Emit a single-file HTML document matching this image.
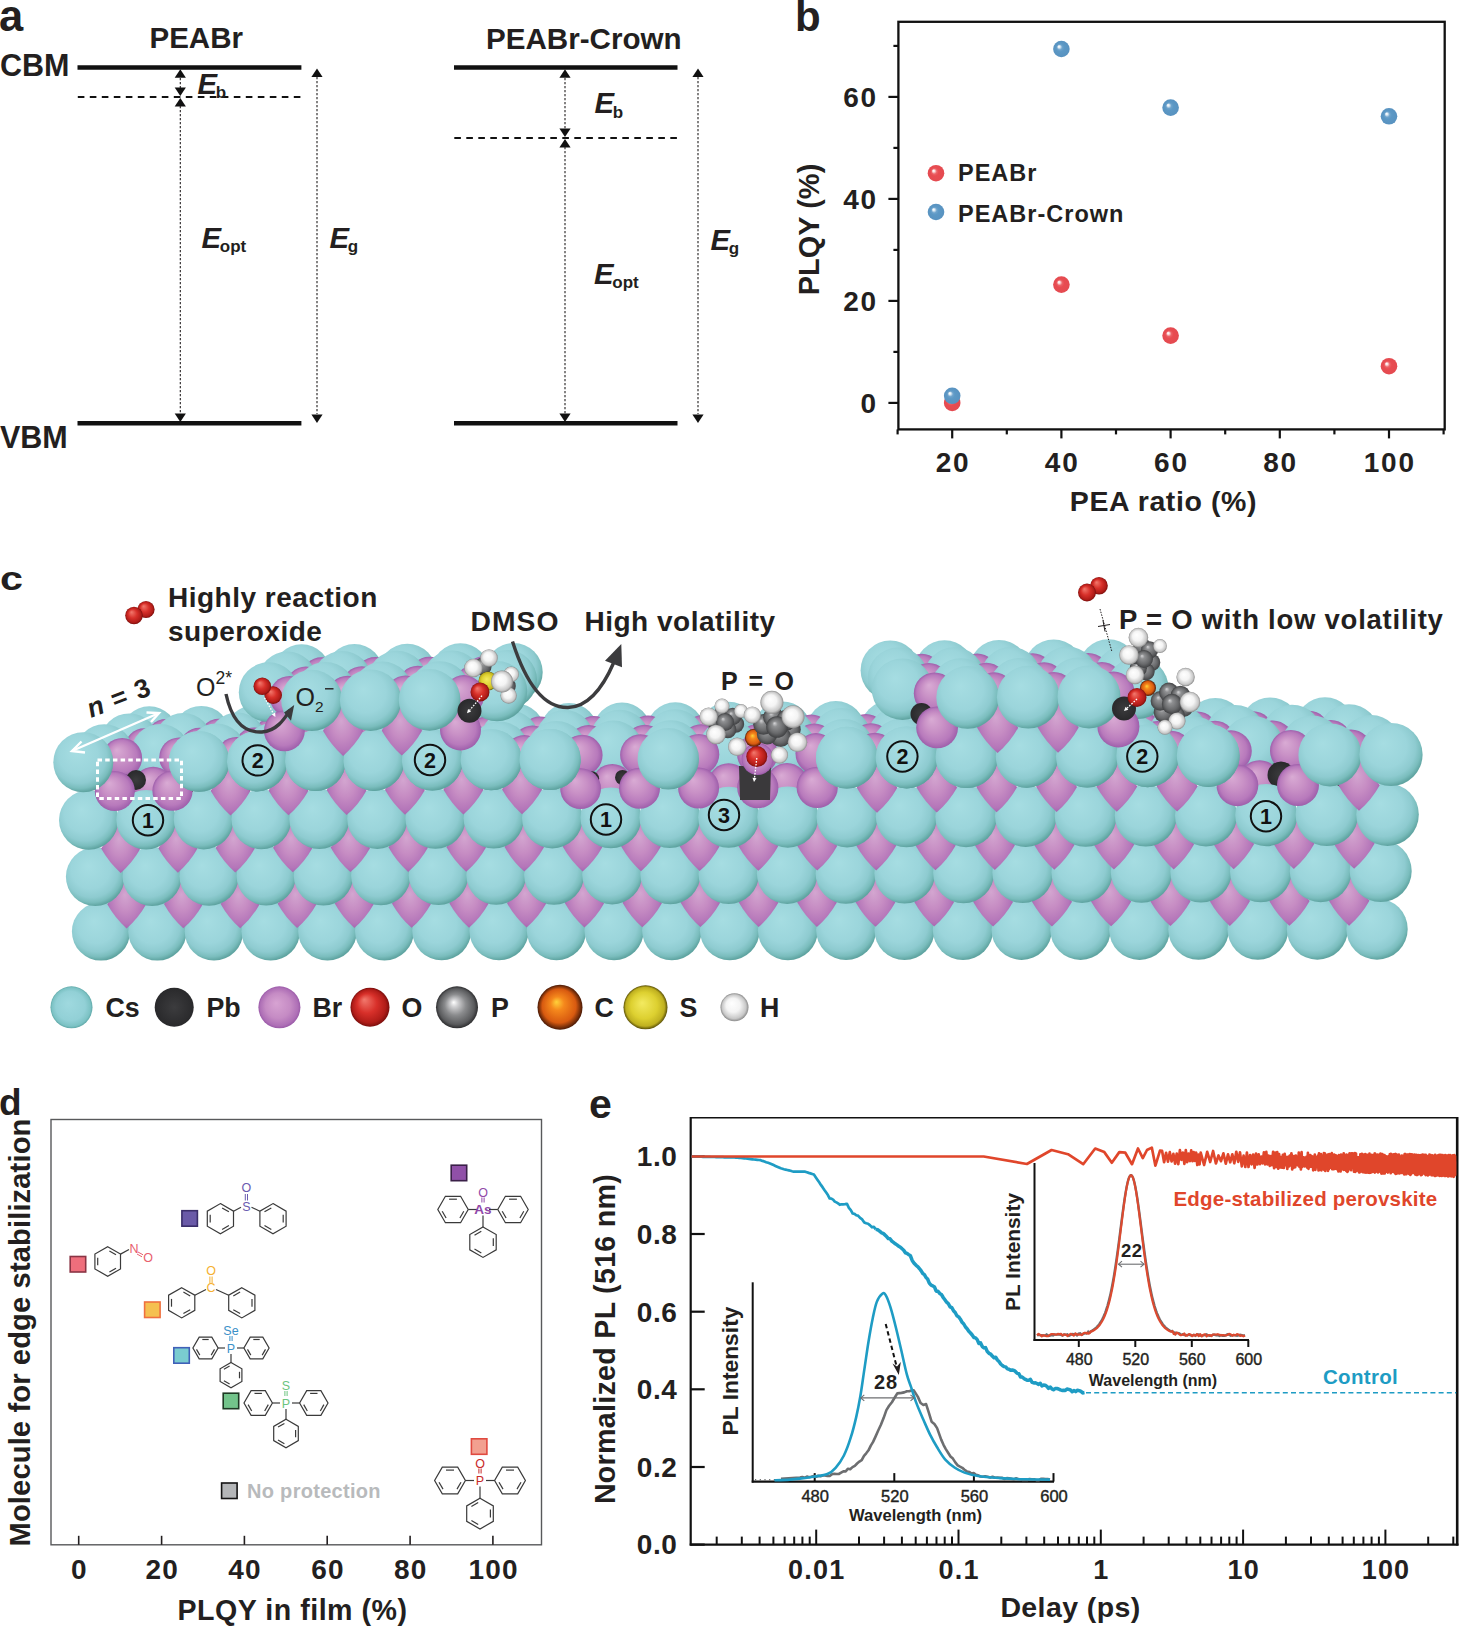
<!DOCTYPE html>
<html><head><meta charset="utf-8"><style>
html,body{margin:0;padding:0;background:#fff;}
svg{display:block;}
</style></head><body>
<svg width="1459" height="1628" viewBox="0 0 1459 1628">
<g font-family="'Liberation Sans', sans-serif" font-weight="bold" fill="#231f20">
<g>
<text x="-1" y="31" font-size="43.5">a</text>
<text x="149.5" y="47.8" font-size="29.5">PEABr</text>
<text x="486" y="48.8" font-size="29.6">PEABr-Crown</text>
<text x="0" y="76.3" font-size="30.5">CBM</text>
<text x="0" y="447.5" font-size="30.5">VBM</text>
<line x1="77.5" y1="67.5" x2="301.4" y2="67.5" stroke="#111" stroke-width="4.5"/>
<line x1="77.5" y1="423.2" x2="301.4" y2="423.2" stroke="#111" stroke-width="4.5"/>
<line x1="77.5" y1="97" x2="301.4" y2="97" stroke="#111" stroke-width="2" stroke-dasharray="6.6 5.4" stroke-dashoffset="-0.3"/>
<polygon points="180.3,69.3 174.7,77.8 185.9,77.8" fill="#111"/>
<line x1="180.3" y1="78" x2="180.3" y2="88" stroke="#231f20" stroke-width="1.1" stroke-dasharray="2.2 1.8"/>
<polygon points="180.3,96 174.7,87.5 185.9,87.5" fill="#111"/>
<polygon points="180.3,98 174.7,106.5 185.9,106.5" fill="#111"/>
<line x1="180.3" y1="106" x2="180.3" y2="414" stroke="#231f20" stroke-width="1.1" stroke-dasharray="2.2 1.8"/>
<polygon points="180.3,422 174.7,413.5 185.9,413.5" fill="#111"/>
<polygon points="317,68.5 311.4,77 322.6,77" fill="#111"/>
<line x1="317" y1="77" x2="317" y2="414" stroke="#231f20" stroke-width="1.1" stroke-dasharray="2.2 1.8"/>
<polygon points="317,423 311.4,414.5 322.6,414.5" fill="#111"/>
<line x1="454" y1="67.5" x2="677.5" y2="67.5" stroke="#111" stroke-width="4.5"/>
<line x1="454" y1="423.2" x2="677.5" y2="423.2" stroke="#111" stroke-width="4.5"/>
<line x1="454" y1="138" x2="677.5" y2="138" stroke="#111" stroke-width="2" stroke-dasharray="6.6 5.4" stroke-dashoffset="-0.3"/>
<polygon points="565,69.3 559.4,77.8 570.6,77.8" fill="#111"/>
<line x1="565" y1="78" x2="565" y2="129" stroke="#231f20" stroke-width="1.1" stroke-dasharray="2.2 1.8"/>
<polygon points="565,137 559.4,128.5 570.6,128.5" fill="#111"/>
<polygon points="565,139 559.4,147.5 570.6,147.5" fill="#111"/>
<line x1="565" y1="147" x2="565" y2="414" stroke="#231f20" stroke-width="1.1" stroke-dasharray="2.2 1.8"/>
<polygon points="565,422 559.4,413.5 570.6,413.5" fill="#111"/>
<polygon points="698,68.5 692.4,77 703.6,77" fill="#111"/>
<line x1="698" y1="77" x2="698" y2="414" stroke="#231f20" stroke-width="1.1" stroke-dasharray="2.2 1.8"/>
<polygon points="698,423 692.4,414.5 703.6,414.5" fill="#111"/>
<text x="197.5" y="93.5" font-size="29.3" font-style="italic">E</text><text x="215.8" y="97.8" font-size="17">b</text>
<text x="201.5" y="247.8" font-size="29.3" font-style="italic">E</text><text x="219.8" y="252.1" font-size="17">opt</text>
<text x="329.5" y="247.8" font-size="29.3" font-style="italic">E</text><text x="347.8" y="252.1" font-size="17">g</text>
<text x="594.5" y="113.4" font-size="29.3" font-style="italic">E</text><text x="612.8" y="117.7" font-size="17">b</text>
<text x="594" y="284" font-size="29.3" font-style="italic">E</text><text x="612.3" y="288.3" font-size="17">opt</text>
<text x="710.5" y="250" font-size="29.3" font-style="italic">E</text><text x="728.8" y="254.3" font-size="17">g</text>
</g>
<g>
<defs>
<radialGradient id="gRed" cx="0.5" cy="0.5" r="0.5" fx="0.34" fy="0.34">
<stop offset="0" stop-color="#ffffff"/><stop offset="0.12" stop-color="#fbe6e6"/><stop offset="0.32" stop-color="#ec6267"/><stop offset="0.5" stop-color="#e84c51"/><stop offset="1" stop-color="#e44a50"/></radialGradient>
<radialGradient id="gBlue" cx="0.5" cy="0.5" r="0.5" fx="0.34" fy="0.34">
<stop offset="0" stop-color="#ffffff"/><stop offset="0.12" stop-color="#e6f0f7"/><stop offset="0.32" stop-color="#6ea3cc"/><stop offset="0.5" stop-color="#5c98c5"/><stop offset="1" stop-color="#5892c0"/></radialGradient>
</defs>
<text x="795" y="30.5" font-size="42">b</text>
<rect x="898.4" y="21.8" width="546.3" height="407.6" fill="none" stroke="#111" stroke-width="2.3"/>
<line x1="888.4" y1="402.9" x2="898.4" y2="402.9" stroke="#111" stroke-width="2.2"/>
<text x="877.5" y="412.7" font-size="28" text-anchor="end" letter-spacing="1.5">0</text>
<line x1="893.4" y1="351.9" x2="898.4" y2="351.9" stroke="#111" stroke-width="2.2"/>
<line x1="888.4" y1="300.9" x2="898.4" y2="300.9" stroke="#111" stroke-width="2.2"/>
<text x="877.5" y="310.7" font-size="28" text-anchor="end" letter-spacing="1.5">20</text>
<line x1="893.4" y1="249.9" x2="898.4" y2="249.9" stroke="#111" stroke-width="2.2"/>
<line x1="888.4" y1="198.9" x2="898.4" y2="198.9" stroke="#111" stroke-width="2.2"/>
<text x="877.5" y="208.7" font-size="28" text-anchor="end" letter-spacing="1.5">40</text>
<line x1="893.4" y1="147.9" x2="898.4" y2="147.9" stroke="#111" stroke-width="2.2"/>
<line x1="888.4" y1="96.9" x2="898.4" y2="96.9" stroke="#111" stroke-width="2.2"/>
<text x="877.5" y="106.7" font-size="28" text-anchor="end" letter-spacing="1.5">60</text>
<line x1="893.4" y1="45.9" x2="898.4" y2="45.9" stroke="#111" stroke-width="2.2"/>
<line x1="897.6" y1="429.4" x2="897.6" y2="434.4" stroke="#111" stroke-width="2.2"/>
<line x1="952.2" y1="429.4" x2="952.2" y2="438.4" stroke="#111" stroke-width="2.2"/>
<text x="953" y="472" font-size="28" text-anchor="middle" letter-spacing="1.8">20</text>
<line x1="1006.8" y1="429.4" x2="1006.8" y2="434.4" stroke="#111" stroke-width="2.2"/>
<line x1="1061.4" y1="429.4" x2="1061.4" y2="438.4" stroke="#111" stroke-width="2.2"/>
<text x="1062.2" y="472" font-size="28" text-anchor="middle" letter-spacing="1.8">40</text>
<line x1="1116" y1="429.4" x2="1116" y2="434.4" stroke="#111" stroke-width="2.2"/>
<line x1="1170.6" y1="429.4" x2="1170.6" y2="438.4" stroke="#111" stroke-width="2.2"/>
<text x="1171.4" y="472" font-size="28" text-anchor="middle" letter-spacing="1.8">60</text>
<line x1="1225.2" y1="429.4" x2="1225.2" y2="434.4" stroke="#111" stroke-width="2.2"/>
<line x1="1279.8" y1="429.4" x2="1279.8" y2="438.4" stroke="#111" stroke-width="2.2"/>
<text x="1280.6" y="472" font-size="28" text-anchor="middle" letter-spacing="1.8">80</text>
<line x1="1334.4" y1="429.4" x2="1334.4" y2="434.4" stroke="#111" stroke-width="2.2"/>
<line x1="1389" y1="429.4" x2="1389" y2="438.4" stroke="#111" stroke-width="2.2"/>
<text x="1389.8" y="472" font-size="28" text-anchor="middle" letter-spacing="1.8">100</text>
<line x1="1443.6" y1="429.4" x2="1443.6" y2="434.4" stroke="#111" stroke-width="2.2"/>
<text x="1163.5" y="511" font-size="28.5" text-anchor="middle" letter-spacing="0.6">PEA ratio (%)</text>
<text transform="translate(818.5,229.5) rotate(-90)" font-size="29" text-anchor="middle">PLQY (%)</text>
<circle cx="936" cy="173.2" r="8.3" fill="url(#gRed)"/>
<text x="958" y="181" font-size="23.5" letter-spacing="1">PEABr</text>
<circle cx="936" cy="212" r="8.3" fill="url(#gBlue)"/>
<text x="958" y="221.5" font-size="23.5" letter-spacing="1">PEABr-Crown</text>
<circle cx="952.2" cy="402.9" r="8.3" fill="url(#gRed)"/>
<circle cx="1061.4" cy="284.6" r="8.3" fill="url(#gRed)"/>
<circle cx="1170.6" cy="335.6" r="8.3" fill="url(#gRed)"/>
<circle cx="1389" cy="366.2" r="8.3" fill="url(#gRed)"/>
<circle cx="952.2" cy="395.8" r="8.3" fill="url(#gBlue)"/>
<circle cx="1061.4" cy="49" r="8.3" fill="url(#gBlue)"/>
<circle cx="1170.6" cy="107.6" r="8.3" fill="url(#gBlue)"/>
<circle cx="1389" cy="116.3" r="8.3" fill="url(#gBlue)"/>
</g>
<g>
<defs>
<radialGradient id="gCs" cx="0.45" cy="0.42" r="0.6" fx="0.38" fy="0.32">
<stop offset="0" stop-color="#a6dde2"/><stop offset="0.55" stop-color="#9bd5db"/><stop offset="0.76" stop-color="#8ecbd0"/><stop offset="0.88" stop-color="#7abdbd"/><stop offset="0.97" stop-color="#5fa4a1"/></radialGradient>
<radialGradient id="gBrK" cx="0.5" cy="0.5" r="0.55" fx="0.45" fy="0.38">
<stop offset="0" stop-color="#d3a6d0"/><stop offset="0.45" stop-color="#c68cc3"/><stop offset="0.8" stop-color="#b476b9"/><stop offset="1" stop-color="#9f5dac"/></radialGradient>
<radialGradient id="gBr" cx="0.5" cy="0.5" r="0.5" fx="0.36" fy="0.3">
<stop offset="0" stop-color="#d9abd4"/><stop offset="0.45" stop-color="#c991c6"/><stop offset="0.8" stop-color="#b87abc"/><stop offset="1" stop-color="#9e5fab"/></radialGradient>
<radialGradient id="gPb" cx="0.5" cy="0.5" r="0.5" fx="0.4" fy="0.35">
<stop offset="0" stop-color="#4a4a4c"/><stop offset="1" stop-color="#2b2b2d"/></radialGradient>
<radialGradient id="gO" cx="0.5" cy="0.5" r="0.5" fx="0.35" fy="0.3">
<stop offset="0" stop-color="#f27a6e"/><stop offset="0.5" stop-color="#d8302a"/><stop offset="0.85" stop-color="#b01c18"/><stop offset="1" stop-color="#7a0e0c"/></radialGradient>
<radialGradient id="gP" cx="0.5" cy="0.5" r="0.5" fx="0.42" fy="0.38">
<stop offset="0" stop-color="#ffffff"/><stop offset="0.18" stop-color="#d0d0d2"/><stop offset="0.5" stop-color="#8a8b8d"/><stop offset="0.85" stop-color="#5a5b5d"/><stop offset="1" stop-color="#2e2e30"/></radialGradient>
<radialGradient id="gC" cx="0.5" cy="0.5" r="0.5" fx="0.42" fy="0.38">
<stop offset="0" stop-color="#ffd23a"/><stop offset="0.3" stop-color="#f5881c"/><stop offset="0.75" stop-color="#d85a10"/><stop offset="1" stop-color="#4a1a06"/></radialGradient>
<radialGradient id="gS" cx="0.5" cy="0.5" r="0.5" fx="0.42" fy="0.4">
<stop offset="0" stop-color="#f3ea60"/><stop offset="0.6" stop-color="#ddd030"/><stop offset="0.88" stop-color="#bfb020"/><stop offset="1" stop-color="#5a5008"/></radialGradient>
<radialGradient id="gH" cx="0.5" cy="0.5" r="0.5" fx="0.4" fy="0.35">
<stop offset="0" stop-color="#ffffff"/><stop offset="0.5" stop-color="#f4f4f4"/><stop offset="0.85" stop-color="#c8c8c8"/><stop offset="1" stop-color="#8a8a8a"/></radialGradient>
<radialGradient id="gG" cx="0.5" cy="0.5" r="0.5" fx="0.38" fy="0.32">
<stop offset="0" stop-color="#d6d6d8"/><stop offset="0.25" stop-color="#8f9092"/><stop offset="0.7" stop-color="#68696b"/><stop offset="1" stop-color="#404143"/></radialGradient>
<radialGradient id="gCsL" cx="0.5" cy="0.5" r="0.5" fx="0.42" fy="0.4">
<stop offset="0" stop-color="#9fd9df"/><stop offset="0.7" stop-color="#92d0d6"/><stop offset="0.92" stop-color="#7cc2c4"/><stop offset="1" stop-color="#5fa8a8"/></radialGradient>
<radialGradient id="gBrL" cx="0.5" cy="0.5" r="0.5" fx="0.42" fy="0.4">
<stop offset="0" stop-color="#d7a3d2"/><stop offset="0.6" stop-color="#c58bc4"/><stop offset="0.9" stop-color="#ae6fb6"/><stop offset="1" stop-color="#9a5aa8"/></radialGradient>
<radialGradient id="gPbL" cx="0.5" cy="0.5" r="0.5"><stop offset="0" stop-color="#3c3c3e"/><stop offset="1" stop-color="#29292b"/></radialGradient>
</defs>
<circle cx="149.3" cy="734.7" r="28.4" fill="url(#gCs)"/>
<circle cx="201.3" cy="734.4" r="28.5" fill="url(#gCs)"/>
<circle cx="253.4" cy="734" r="28.5" fill="url(#gCs)"/>
<circle cx="305.6" cy="733.7" r="28.6" fill="url(#gCs)"/>
<circle cx="358" cy="733.3" r="28.6" fill="url(#gCs)"/>
<circle cx="410.5" cy="733" r="28.7" fill="url(#gCs)"/>
<circle cx="463.2" cy="732.6" r="28.8" fill="url(#gCs)"/>
<circle cx="516" cy="732.3" r="28.8" fill="url(#gCs)"/>
<circle cx="569" cy="732" r="28.9" fill="url(#gCs)"/>
<circle cx="622" cy="731.6" r="29" fill="url(#gCs)"/>
<circle cx="675.3" cy="731.3" r="29" fill="url(#gCs)"/>
<circle cx="728.7" cy="730.9" r="29.1" fill="url(#gCs)"/>
<circle cx="782.2" cy="730.6" r="29.2" fill="url(#gCs)"/>
<circle cx="835.8" cy="730.2" r="29.2" fill="url(#gCs)"/>
<circle cx="889.6" cy="729.9" r="29.3" fill="url(#gCs)"/>
<circle cx="943.5" cy="729.5" r="29.4" fill="url(#gCs)"/>
<circle cx="997.6" cy="729.1" r="29.4" fill="url(#gCs)"/>
<circle cx="1051.8" cy="728.8" r="29.5" fill="url(#gCs)"/>
<circle cx="1106.2" cy="728.4" r="29.6" fill="url(#gCs)"/>
<circle cx="1160.7" cy="728.1" r="29.6" fill="url(#gCs)"/>
<circle cx="1215.3" cy="727.7" r="29.7" fill="url(#gCs)"/>
<circle cx="1270.1" cy="727.4" r="29.8" fill="url(#gCs)"/>
<circle cx="1325" cy="727" r="29.8" fill="url(#gCs)"/>
<circle cx="165.8" cy="738.3" r="19.2" fill="url(#gBr)"/>
<circle cx="218.8" cy="737.9" r="19.2" fill="url(#gBr)"/>
<circle cx="271.9" cy="737.6" r="19.3" fill="url(#gBr)"/>
<circle cx="325.2" cy="737.3" r="19.3" fill="url(#gBr)"/>
<circle cx="378.6" cy="736.9" r="19.4" fill="url(#gBr)"/>
<circle cx="432.2" cy="736.6" r="19.4" fill="url(#gBr)"/>
<circle cx="486" cy="736.2" r="19.5" fill="url(#gBr)"/>
<circle cx="539.8" cy="735.9" r="19.5" fill="url(#gBr)"/>
<circle cx="593.8" cy="735.5" r="19.5" fill="url(#gBr)"/>
<circle cx="648" cy="735.2" r="19.6" fill="url(#gBr)"/>
<circle cx="702.3" cy="734.8" r="19.6" fill="url(#gBr)"/>
<circle cx="756.7" cy="734.5" r="19.7" fill="url(#gBr)"/>
<circle cx="811.3" cy="734.1" r="19.7" fill="url(#gBr)"/>
<circle cx="866" cy="733.8" r="19.8" fill="url(#gBr)"/>
<circle cx="920.9" cy="733.4" r="19.8" fill="url(#gBr)"/>
<circle cx="975.9" cy="733.1" r="19.9" fill="url(#gBr)"/>
<circle cx="1031.1" cy="732.7" r="19.9" fill="url(#gBr)"/>
<circle cx="1086.4" cy="732.4" r="19.9" fill="url(#gBr)"/>
<circle cx="1141.8" cy="732" r="20" fill="url(#gBr)"/>
<circle cx="1197.4" cy="731.6" r="20" fill="url(#gBr)"/>
<circle cx="1253.1" cy="731.3" r="20.1" fill="url(#gBr)"/>
<circle cx="1309" cy="730.9" r="20.1" fill="url(#gBr)"/>
<circle cx="129.3" cy="742.2" r="28.8" fill="url(#gCs)"/>
<circle cx="183.2" cy="741.9" r="28.9" fill="url(#gCs)"/>
<circle cx="237.3" cy="741.5" r="29" fill="url(#gCs)"/>
<circle cx="291.5" cy="741.2" r="29" fill="url(#gCs)"/>
<circle cx="345.8" cy="740.8" r="29.1" fill="url(#gCs)"/>
<circle cx="400.3" cy="740.5" r="29.2" fill="url(#gCs)"/>
<circle cx="455" cy="740.1" r="29.2" fill="url(#gCs)"/>
<circle cx="509.7" cy="739.8" r="29.3" fill="url(#gCs)"/>
<circle cx="564.7" cy="739.5" r="29.4" fill="url(#gCs)"/>
<circle cx="619.7" cy="739.1" r="29.4" fill="url(#gCs)"/>
<circle cx="675" cy="738.8" r="29.5" fill="url(#gCs)"/>
<circle cx="730.3" cy="738.4" r="29.6" fill="url(#gCs)"/>
<circle cx="785.8" cy="738.1" r="29.6" fill="url(#gCs)"/>
<circle cx="841.5" cy="737.7" r="29.7" fill="url(#gCs)"/>
<circle cx="897.3" cy="737.4" r="29.8" fill="url(#gCs)"/>
<circle cx="953.3" cy="737" r="29.8" fill="url(#gCs)"/>
<circle cx="1009.4" cy="736.6" r="29.9" fill="url(#gCs)"/>
<circle cx="1065.6" cy="736.3" r="30" fill="url(#gCs)"/>
<circle cx="1122" cy="735.9" r="30" fill="url(#gCs)"/>
<circle cx="1178.5" cy="735.6" r="30.1" fill="url(#gCs)"/>
<circle cx="1235.2" cy="735.2" r="30.2" fill="url(#gCs)"/>
<circle cx="1292" cy="734.9" r="30.2" fill="url(#gCs)"/>
<circle cx="1349" cy="734.5" r="30.3" fill="url(#gCs)"/>
<circle cx="144.3" cy="747.8" r="19.5" fill="url(#gBr)"/>
<circle cx="199.3" cy="747.4" r="19.6" fill="url(#gBr)"/>
<circle cx="254.5" cy="747.1" r="19.6" fill="url(#gBr)"/>
<circle cx="309.8" cy="746.8" r="19.7" fill="url(#gBr)"/>
<circle cx="365.2" cy="746.4" r="19.7" fill="url(#gBr)"/>
<circle cx="420.9" cy="746.1" r="19.8" fill="url(#gBr)"/>
<circle cx="476.6" cy="745.7" r="19.8" fill="url(#gBr)"/>
<circle cx="532.5" cy="745.4" r="19.9" fill="url(#gBr)"/>
<circle cx="588.6" cy="745" r="19.9" fill="url(#gBr)"/>
<circle cx="644.8" cy="744.7" r="19.9" fill="url(#gBr)"/>
<circle cx="701.2" cy="744.3" r="20" fill="url(#gBr)"/>
<circle cx="757.7" cy="744" r="20" fill="url(#gBr)"/>
<circle cx="814.3" cy="743.6" r="20.1" fill="url(#gBr)"/>
<circle cx="871.1" cy="743.3" r="20.1" fill="url(#gBr)"/>
<circle cx="928.1" cy="742.9" r="20.2" fill="url(#gBr)"/>
<circle cx="985.2" cy="742.6" r="20.2" fill="url(#gBr)"/>
<circle cx="1042.5" cy="742.2" r="20.3" fill="url(#gBr)"/>
<circle cx="1099.9" cy="741.9" r="20.3" fill="url(#gBr)"/>
<circle cx="1157.4" cy="741.5" r="20.4" fill="url(#gBr)"/>
<circle cx="1215.1" cy="741.1" r="20.4" fill="url(#gBr)"/>
<circle cx="1272.9" cy="740.8" r="20.4" fill="url(#gBr)"/>
<circle cx="1330.9" cy="740.4" r="20.5" fill="url(#gBr)"/>
<circle cx="104.3" cy="753.7" r="29.4" fill="url(#gCs)"/>
<circle cx="160.3" cy="753.4" r="29.5" fill="url(#gCs)"/>
<circle cx="216.4" cy="753" r="29.6" fill="url(#gCs)"/>
<circle cx="272.7" cy="752.7" r="29.6" fill="url(#gCs)"/>
<circle cx="329.2" cy="752.3" r="29.7" fill="url(#gCs)"/>
<circle cx="385.8" cy="752" r="29.8" fill="url(#gCs)"/>
<circle cx="442.5" cy="751.6" r="29.8" fill="url(#gCs)"/>
<circle cx="499.4" cy="751.3" r="29.9" fill="url(#gCs)"/>
<circle cx="556.4" cy="751" r="30" fill="url(#gCs)"/>
<circle cx="613.6" cy="750.6" r="30" fill="url(#gCs)"/>
<circle cx="671" cy="750.3" r="30.1" fill="url(#gCs)"/>
<circle cx="728.5" cy="749.9" r="30.2" fill="url(#gCs)"/>
<circle cx="786.1" cy="749.6" r="30.2" fill="url(#gCs)"/>
<circle cx="843.9" cy="749.2" r="30.3" fill="url(#gCs)"/>
<circle cx="901.9" cy="748.9" r="30.4" fill="url(#gCs)"/>
<circle cx="960" cy="748.5" r="30.5" fill="url(#gCs)"/>
<circle cx="1018.3" cy="748.1" r="30.5" fill="url(#gCs)"/>
<circle cx="1076.7" cy="747.8" r="30.6" fill="url(#gCs)"/>
<circle cx="1135.2" cy="747.4" r="30.7" fill="url(#gCs)"/>
<circle cx="1193.9" cy="747.1" r="30.7" fill="url(#gCs)"/>
<circle cx="1252.8" cy="746.7" r="30.8" fill="url(#gCs)"/>
<circle cx="1311.8" cy="746.4" r="30.9" fill="url(#gCs)"/>
<circle cx="1371" cy="746" r="30.9" fill="url(#gCs)"/>
<circle cx="122.2" cy="757.8" r="19.9" fill="url(#gBr)"/>
<circle cx="179.2" cy="757.4" r="20" fill="url(#gBr)"/>
<circle cx="236.3" cy="757.1" r="20" fill="url(#gBr)"/>
<circle cx="293.6" cy="756.8" r="20.1" fill="url(#gBr)"/>
<circle cx="351" cy="756.4" r="20.1" fill="url(#gBr)"/>
<circle cx="408.6" cy="756.1" r="20.2" fill="url(#gBr)"/>
<circle cx="466.4" cy="755.7" r="20.2" fill="url(#gBr)"/>
<circle cx="524.3" cy="755.4" r="20.3" fill="url(#gBr)"/>
<circle cx="582.3" cy="755" r="20.3" fill="url(#gBr)"/>
<circle cx="640.5" cy="754.7" r="20.4" fill="url(#gBr)"/>
<circle cx="698.9" cy="754.3" r="20.4" fill="url(#gBr)"/>
<circle cx="757.4" cy="754" r="20.4" fill="url(#gBr)"/>
<circle cx="816" cy="753.6" r="20.5" fill="url(#gBr)"/>
<circle cx="874.8" cy="753.3" r="20.5" fill="url(#gBr)"/>
<circle cx="933.8" cy="752.9" r="20.6" fill="url(#gBr)"/>
<circle cx="992.9" cy="752.6" r="20.6" fill="url(#gBr)"/>
<circle cx="1052.2" cy="752.2" r="20.7" fill="url(#gBr)"/>
<circle cx="1111.6" cy="751.9" r="20.7" fill="url(#gBr)"/>
<circle cx="1171.2" cy="751.5" r="20.8" fill="url(#gBr)"/>
<circle cx="1231" cy="751.1" r="20.8" fill="url(#gBr)"/>
<circle cx="1290.9" cy="750.8" r="20.9" fill="url(#gBr)"/>
<circle cx="1350.9" cy="750.4" r="20.9" fill="url(#gBr)"/>
<circle cx="124.8" cy="786.7" r="12.3" fill="url(#gPb)"/>
<circle cx="181.6" cy="786.4" r="12.3" fill="url(#gPb)"/>
<circle cx="238.5" cy="786.1" r="12.3" fill="url(#gPb)"/>
<circle cx="295.6" cy="785.8" r="12.3" fill="url(#gPb)"/>
<circle cx="352.8" cy="785.5" r="12.4" fill="url(#gPb)"/>
<circle cx="410.2" cy="785.2" r="12.4" fill="url(#gPb)"/>
<circle cx="467.8" cy="785" r="12.4" fill="url(#gPb)"/>
<circle cx="525.5" cy="784.7" r="12.5" fill="url(#gPb)"/>
<circle cx="583.3" cy="784.4" r="12.5" fill="url(#gPb)"/>
<circle cx="641.3" cy="784.1" r="12.5" fill="url(#gPb)"/>
<circle cx="699.5" cy="783.8" r="12.5" fill="url(#gPb)"/>
<circle cx="757.8" cy="783.5" r="12.6" fill="url(#gPb)"/>
<circle cx="816.2" cy="783.2" r="12.6" fill="url(#gPb)"/>
<circle cx="874.8" cy="782.9" r="12.6" fill="url(#gPb)"/>
<circle cx="933.6" cy="782.6" r="12.7" fill="url(#gPb)"/>
<circle cx="992.5" cy="782.3" r="12.7" fill="url(#gPb)"/>
<circle cx="1051.6" cy="782" r="12.7" fill="url(#gPb)"/>
<circle cx="1110.8" cy="781.7" r="12.7" fill="url(#gPb)"/>
<circle cx="1170.2" cy="781.4" r="12.8" fill="url(#gPb)"/>
<circle cx="1229.7" cy="781.1" r="12.8" fill="url(#gPb)"/>
<circle cx="1289.4" cy="780.8" r="12.8" fill="url(#gPb)"/>
<circle cx="1349.3" cy="780.5" r="12.9" fill="url(#gPb)"/>
<circle cx="1259.6" cy="780.9" r="20.7" fill="url(#gBr)"/>
<circle cx="612.3" cy="784.2" r="20.2" fill="url(#gBr)"/>
<circle cx="728.6" cy="783.6" r="20.3" fill="url(#gBr)"/>
<circle cx="153.2" cy="786.6" r="19.9" fill="url(#gBr)"/>
<circle cx="787" cy="783.3" r="20.4" fill="url(#gBr)"/>
<circle cx="136" cy="780" r="10" fill="url(#gPbL)"/>
<circle cx="591.7" cy="778.7" r="7.5" fill="url(#gPbL)"/>
<circle cx="622.5" cy="777.4" r="7.5" fill="url(#gPbL)"/>
<circle cx="1281" cy="775" r="13.5" fill="url(#gPbL)"/>
<circle cx="101" cy="931.5" r="29.1" fill="url(#gCs)"/>
<circle cx="157.4" cy="931.4" r="29.2" fill="url(#gCs)"/>
<circle cx="214" cy="931.3" r="29.3" fill="url(#gCs)"/>
<circle cx="270.7" cy="931.2" r="29.3" fill="url(#gCs)"/>
<circle cx="327.5" cy="931.1" r="29.4" fill="url(#gCs)"/>
<circle cx="384.5" cy="930.9" r="29.5" fill="url(#gCs)"/>
<circle cx="441.7" cy="930.8" r="29.5" fill="url(#gCs)"/>
<circle cx="499" cy="930.7" r="29.6" fill="url(#gCs)"/>
<circle cx="556.5" cy="930.6" r="29.7" fill="url(#gCs)"/>
<circle cx="614.1" cy="930.5" r="29.7" fill="url(#gCs)"/>
<circle cx="671.9" cy="930.4" r="29.8" fill="url(#gCs)"/>
<circle cx="729.8" cy="930.3" r="29.9" fill="url(#gCs)"/>
<circle cx="787.9" cy="930.2" r="30" fill="url(#gCs)"/>
<circle cx="846.1" cy="930" r="30" fill="url(#gCs)"/>
<circle cx="904.5" cy="929.9" r="30.1" fill="url(#gCs)"/>
<circle cx="963" cy="929.8" r="30.2" fill="url(#gCs)"/>
<circle cx="1021.7" cy="929.7" r="30.2" fill="url(#gCs)"/>
<circle cx="1080.5" cy="929.6" r="30.3" fill="url(#gCs)"/>
<circle cx="1139.5" cy="929.5" r="30.4" fill="url(#gCs)"/>
<circle cx="1198.6" cy="929.3" r="30.4" fill="url(#gCs)"/>
<circle cx="1257.9" cy="929.2" r="30.5" fill="url(#gCs)"/>
<circle cx="1317.4" cy="929.1" r="30.6" fill="url(#gCs)"/>
<circle cx="1377" cy="929" r="30.7" fill="url(#gCs)"/>
<path d="M107.3 904.3 Q115 918.2 126.6 928.4 Q138.4 918.4 146 904.6 L126.4 874.1 Z" fill="url(#gBrK)"/>
<path d="M164 904.1 Q171.6 918 183.3 928.3 Q195.1 918.2 202.7 904.4 L183.1 873.9 Z" fill="url(#gBrK)"/>
<path d="M220.7 903.9 Q228.4 917.9 240.2 928.2 Q252 918.1 259.6 904.2 L240 873.6 Z" fill="url(#gBrK)"/>
<path d="M277.7 903.8 Q285.4 917.7 297.1 928 Q309 917.9 316.6 904.1 L296.9 873.4 Z" fill="url(#gBrK)"/>
<path d="M334.8 903.6 Q342.5 917.6 354.3 927.9 Q366.1 917.8 373.8 903.9 L354.1 873.1 Z" fill="url(#gBrK)"/>
<path d="M392 903.4 Q399.8 917.4 411.6 927.8 Q423.5 917.6 431.1 903.7 L411.4 872.9 Z" fill="url(#gBrK)"/>
<path d="M449.4 903.2 Q457.2 917.3 469 927.7 Q480.9 917.5 488.6 903.5 L468.8 872.6 Z" fill="url(#gBrK)"/>
<path d="M507 903 Q514.8 917.1 526.6 927.5 Q538.6 917.3 546.3 903.3 L526.4 872.4 Z" fill="url(#gBrK)"/>
<path d="M564.7 902.8 Q572.5 916.9 584.4 927.4 Q596.4 917.2 604.1 903.2 L584.2 872.1 Z" fill="url(#gBrK)"/>
<path d="M622.6 902.7 Q630.4 916.8 642.3 927.3 Q654.3 917 662 903 L642.1 871.9 Z" fill="url(#gBrK)"/>
<path d="M680.6 902.5 Q688.4 916.6 700.4 927.1 Q712.4 916.8 720.1 902.8 L700.2 871.6 Z" fill="url(#gBrK)"/>
<path d="M738.8 902.3 Q746.6 916.5 758.6 927 Q770.6 916.7 778.4 902.6 L758.4 871.3 Z" fill="url(#gBrK)"/>
<path d="M797.1 902.1 Q805 916.3 816.9 926.9 Q829 916.5 836.8 902.4 L816.7 871.1 Z" fill="url(#gBrK)"/>
<path d="M855.5 901.9 Q863.5 916.2 875.5 926.8 Q887.6 916.4 895.4 902.2 L875.3 870.8 Z" fill="url(#gBrK)"/>
<path d="M914.2 901.7 Q922.1 916 934.1 926.6 Q946.3 916.2 954.1 902 L933.9 870.6 Z" fill="url(#gBrK)"/>
<path d="M973 901.5 Q980.9 915.9 993 926.5 Q1005.1 916.1 1013 901.9 L992.7 870.3 Z" fill="url(#gBrK)"/>
<path d="M1031.9 901.4 Q1039.8 915.7 1051.9 926.4 Q1064.1 915.9 1072 901.7 L1051.7 870 Z" fill="url(#gBrK)"/>
<path d="M1091 901.2 Q1098.9 915.6 1111.1 926.2 Q1123.3 915.8 1131.2 901.5 L1110.9 869.8 Z" fill="url(#gBrK)"/>
<path d="M1150.2 901 Q1158.2 915.4 1170.4 926.1 Q1182.6 915.6 1190.5 901.3 L1170.1 869.5 Z" fill="url(#gBrK)"/>
<path d="M1209.6 900.8 Q1217.6 915.3 1229.8 926 Q1242.1 915.5 1250 901.1 L1229.6 869.3 Z" fill="url(#gBrK)"/>
<path d="M1269.1 900.6 Q1277.2 915.1 1289.4 925.8 Q1301.7 915.3 1309.6 900.9 L1289.2 869 Z" fill="url(#gBrK)"/>
<path d="M1328.8 900.4 Q1336.9 914.9 1349.1 925.7 Q1361.5 915.1 1369.4 900.7 L1348.9 868.7 Z" fill="url(#gBrK)"/>
<circle cx="95.3" cy="876.7" r="29.4" fill="url(#gCs)"/>
<circle cx="152.1" cy="876.4" r="29.5" fill="url(#gCs)"/>
<circle cx="209.1" cy="876.2" r="29.6" fill="url(#gCs)"/>
<circle cx="266.2" cy="875.9" r="29.6" fill="url(#gCs)"/>
<circle cx="323.5" cy="875.7" r="29.7" fill="url(#gCs)"/>
<circle cx="380.9" cy="875.4" r="29.8" fill="url(#gCs)"/>
<circle cx="438.5" cy="875.2" r="29.8" fill="url(#gCs)"/>
<circle cx="496.2" cy="874.9" r="29.9" fill="url(#gCs)"/>
<circle cx="554.1" cy="874.7" r="30" fill="url(#gCs)"/>
<circle cx="612.2" cy="874.4" r="30" fill="url(#gCs)"/>
<circle cx="670.4" cy="874.1" r="30.1" fill="url(#gCs)"/>
<circle cx="728.7" cy="873.9" r="30.2" fill="url(#gCs)"/>
<circle cx="787.2" cy="873.6" r="30.3" fill="url(#gCs)"/>
<circle cx="845.9" cy="873.4" r="30.3" fill="url(#gCs)"/>
<circle cx="904.7" cy="873.1" r="30.4" fill="url(#gCs)"/>
<circle cx="963.6" cy="872.8" r="30.5" fill="url(#gCs)"/>
<circle cx="1022.8" cy="872.6" r="30.5" fill="url(#gCs)"/>
<circle cx="1082" cy="872.3" r="30.6" fill="url(#gCs)"/>
<circle cx="1141.5" cy="872.1" r="30.7" fill="url(#gCs)"/>
<circle cx="1201" cy="871.8" r="30.7" fill="url(#gCs)"/>
<circle cx="1260.8" cy="871.5" r="30.8" fill="url(#gCs)"/>
<circle cx="1320.7" cy="871.3" r="30.9" fill="url(#gCs)"/>
<circle cx="1380.7" cy="871" r="31" fill="url(#gCs)"/>
<path d="M101.2 848.5 Q109 862.5 120.7 872.9 Q132.6 862.7 140.3 848.8 L120.5 818 Z" fill="url(#gBrK)"/>
<path d="M158.4 848.3 Q166.1 862.3 177.9 872.7 Q189.8 862.5 197.5 848.6 L177.7 817.7 Z" fill="url(#gBrK)"/>
<path d="M215.7 848 Q223.4 862.1 235.3 872.5 Q247.2 862.3 254.9 848.3 L235.1 817.4 Z" fill="url(#gBrK)"/>
<path d="M273.1 847.8 Q280.9 861.9 292.8 872.3 Q304.7 862.1 312.4 848.1 L292.6 817.1 Z" fill="url(#gBrK)"/>
<path d="M330.7 847.5 Q338.5 861.7 350.4 872.1 Q362.4 861.9 370.1 847.9 L350.2 816.8 Z" fill="url(#gBrK)"/>
<path d="M388.5 847.3 Q396.3 861.4 408.2 871.9 Q420.2 861.6 428 847.6 L408 816.5 Z" fill="url(#gBrK)"/>
<path d="M446.4 847 Q454.2 861.2 466.2 871.7 Q478.2 861.4 486 847.4 L466 816.1 Z" fill="url(#gBrK)"/>
<path d="M504.5 846.8 Q512.3 861 524.3 871.5 Q536.4 861.2 544.1 847.1 L524.1 815.8 Z" fill="url(#gBrK)"/>
<path d="M562.7 846.6 Q570.6 860.8 582.6 871.4 Q594.7 861 602.4 846.9 L582.4 815.5 Z" fill="url(#gBrK)"/>
<path d="M621.1 846.3 Q629 860.6 641 871.2 Q653.1 860.8 660.9 846.6 L640.8 815.2 Z" fill="url(#gBrK)"/>
<path d="M679.6 846.1 Q687.5 860.4 699.6 871 Q711.7 860.6 719.5 846.4 L699.4 814.9 Z" fill="url(#gBrK)"/>
<path d="M738.3 845.8 Q746.2 860.1 758.3 870.8 Q770.5 860.3 778.3 846.1 L758.1 814.5 Z" fill="url(#gBrK)"/>
<path d="M797.1 845.5 Q805.1 859.9 817.2 870.6 Q829.4 860.1 837.2 845.9 L817 814.2 Z" fill="url(#gBrK)"/>
<path d="M856.1 845.3 Q864.1 859.7 876.2 870.4 Q888.5 859.9 896.3 845.6 L876 813.9 Z" fill="url(#gBrK)"/>
<path d="M915.3 845 Q923.3 859.5 935.4 870.2 Q947.7 859.7 955.6 845.4 L935.2 813.6 Z" fill="url(#gBrK)"/>
<path d="M974.6 844.8 Q982.6 859.3 994.8 870 Q1007.1 859.5 1015 845.1 L994.6 813.2 Z" fill="url(#gBrK)"/>
<path d="M1034 844.5 Q1042.1 859 1054.3 869.8 Q1066.6 859.2 1074.5 844.8 L1054.1 812.9 Z" fill="url(#gBrK)"/>
<path d="M1093.6 844.3 Q1101.7 858.8 1113.9 869.6 Q1126.3 859 1134.2 844.6 L1113.7 812.6 Z" fill="url(#gBrK)"/>
<path d="M1153.4 844 Q1161.5 858.6 1173.7 869.4 Q1186.1 858.8 1194.1 844.3 L1173.5 812.3 Z" fill="url(#gBrK)"/>
<path d="M1213.3 843.8 Q1221.4 858.4 1233.7 869.2 Q1246.1 858.6 1254.1 844.1 L1233.5 811.9 Z" fill="url(#gBrK)"/>
<path d="M1273.4 843.5 Q1281.5 858.1 1293.8 869 Q1306.3 858.4 1314.3 843.8 L1293.6 811.6 Z" fill="url(#gBrK)"/>
<path d="M1333.6 843.2 Q1341.8 857.9 1354.1 868.8 Q1366.6 858.1 1374.6 843.6 L1353.9 811.3 Z" fill="url(#gBrK)"/>
<circle cx="88.7" cy="820" r="29.7" fill="url(#gCs)"/>
<circle cx="146.1" cy="819.8" r="29.8" fill="url(#gCs)"/>
<circle cx="203.7" cy="819.5" r="29.9" fill="url(#gCs)"/>
<circle cx="261.4" cy="819.3" r="29.9" fill="url(#gCs)"/>
<circle cx="319.3" cy="819" r="30" fill="url(#gCs)"/>
<circle cx="377.3" cy="818.8" r="30.1" fill="url(#gCs)"/>
<circle cx="435.5" cy="818.6" r="30.1" fill="url(#gCs)"/>
<circle cx="493.8" cy="818.3" r="30.2" fill="url(#gCs)"/>
<circle cx="552.3" cy="818.1" r="30.3" fill="url(#gCs)"/>
<circle cx="610.9" cy="817.8" r="30.4" fill="url(#gCs)"/>
<circle cx="669.8" cy="817.6" r="30.4" fill="url(#gCs)"/>
<circle cx="728.7" cy="817.3" r="30.5" fill="url(#gCs)"/>
<circle cx="787.8" cy="817.1" r="30.6" fill="url(#gCs)"/>
<circle cx="847.1" cy="816.8" r="30.6" fill="url(#gCs)"/>
<circle cx="906.5" cy="816.6" r="30.7" fill="url(#gCs)"/>
<circle cx="966.1" cy="816.4" r="30.8" fill="url(#gCs)"/>
<circle cx="1025.8" cy="816.1" r="30.8" fill="url(#gCs)"/>
<circle cx="1085.7" cy="815.9" r="30.9" fill="url(#gCs)"/>
<circle cx="1145.8" cy="815.6" r="31" fill="url(#gCs)"/>
<circle cx="1206" cy="815.4" r="31" fill="url(#gCs)"/>
<circle cx="1266.3" cy="815.1" r="31.1" fill="url(#gCs)"/>
<circle cx="1326.8" cy="814.9" r="31.2" fill="url(#gCs)"/>
<circle cx="1387.5" cy="814.6" r="31.3" fill="url(#gCs)"/>
<circle cx="114.8" cy="791" r="20" fill="url(#gBr)"/>
<circle cx="172.5" cy="790.7" r="20.1" fill="url(#gBr)"/>
<path d="M210.7 790.7 Q218.6 804.9 230.5 815.4 Q242.6 805.1 250.3 791 L230.3 759.7 Z" fill="url(#gBrK)"/>
<path d="M268.6 790.4 Q276.5 804.6 288.5 815.2 Q300.6 804.8 308.4 790.7 L288.3 759.4 Z" fill="url(#gBrK)"/>
<path d="M326.7 790.1 Q334.6 804.4 346.6 814.9 Q358.8 804.6 366.5 790.4 L346.4 759 Z" fill="url(#gBrK)"/>
<path d="M385 789.8 Q392.9 804.1 405 814.7 Q417.1 804.3 424.9 790.1 L404.7 758.7 Z" fill="url(#gBrK)"/>
<path d="M443.4 789.5 Q451.4 803.8 463.4 814.5 Q475.6 804 483.4 789.8 L463.2 758.3 Z" fill="url(#gBrK)"/>
<path d="M502 789.2 Q509.9 803.6 522 814.2 Q534.2 803.8 542.1 789.5 L521.8 757.9 Z" fill="url(#gBrK)"/>
<circle cx="580.6" cy="788.6" r="20.4" fill="url(#gBr)"/>
<circle cx="639.5" cy="788.3" r="20.5" fill="url(#gBr)"/>
<circle cx="698.6" cy="788" r="20.5" fill="url(#gBr)"/>
<circle cx="757.8" cy="787.7" r="20.6" fill="url(#gBr)"/>
<circle cx="817.2" cy="787.4" r="20.6" fill="url(#gBr)"/>
<path d="M856.7 787.4 Q864.7 802 877 812.8 Q889.3 802.2 897.3 787.8 L876.8 755.7 Z" fill="url(#gBrK)"/>
<path d="M916.3 787.1 Q924.4 801.7 936.7 812.5 Q949.1 801.9 957.1 787.5 L936.5 755.3 Z" fill="url(#gBrK)"/>
<path d="M976.2 786.8 Q984.3 801.5 996.6 812.3 Q1009 801.7 1017 787.2 L996.4 755 Z" fill="url(#gBrK)"/>
<path d="M1036.1 786.5 Q1044.2 801.2 1056.6 812 Q1069 801.4 1077 786.9 L1056.4 754.6 Z" fill="url(#gBrK)"/>
<path d="M1096.3 786.2 Q1104.4 800.9 1116.8 811.8 Q1129.2 801.1 1137.2 786.6 L1116.5 754.2 Z" fill="url(#gBrK)"/>
<path d="M1156.5 785.9 Q1164.7 800.7 1177.1 811.6 Q1189.6 800.9 1197.6 786.3 L1176.9 753.9 Z" fill="url(#gBrK)"/>
<circle cx="1237.4" cy="785.3" r="20.9" fill="url(#gBr)"/>
<circle cx="1298" cy="785" r="21" fill="url(#gBr)"/>
<path d="M1338.3 785 Q1346.5 799.8 1359 810.8 Q1371.6 800.1 1379.7 785.3 L1358.8 752.7 Z" fill="url(#gBrK)"/>
<circle cx="83.3" cy="762.2" r="30" fill="url(#gCs)"/>
<circle cx="199.1" cy="761.5" r="30.2" fill="url(#gCs)"/>
<circle cx="257.2" cy="761.2" r="30.2" fill="url(#gCs)"/>
<circle cx="315.4" cy="760.8" r="30.3" fill="url(#gCs)"/>
<circle cx="373.9" cy="760.5" r="30.4" fill="url(#gCs)"/>
<circle cx="432.4" cy="760.1" r="30.5" fill="url(#gCs)"/>
<circle cx="491.2" cy="759.8" r="30.5" fill="url(#gCs)"/>
<circle cx="550.1" cy="759.5" r="30.6" fill="url(#gCs)"/>
<circle cx="668.3" cy="758.8" r="30.7" fill="url(#gCs)"/>
<circle cx="846.9" cy="757.7" r="30.9" fill="url(#gCs)"/>
<circle cx="906.7" cy="757.4" r="31" fill="url(#gCs)"/>
<circle cx="966.7" cy="757" r="31.1" fill="url(#gCs)"/>
<circle cx="1026.9" cy="756.6" r="31.1" fill="url(#gCs)"/>
<circle cx="1087.2" cy="756.3" r="31.2" fill="url(#gCs)"/>
<circle cx="1147.6" cy="755.9" r="31.3" fill="url(#gCs)"/>
<circle cx="1208.2" cy="755.6" r="31.4" fill="url(#gCs)"/>
<circle cx="1329.9" cy="754.9" r="31.5" fill="url(#gCs)"/>
<circle cx="1391" cy="754.5" r="31.6" fill="url(#gCs)"/>
<circle cx="301.6" cy="673.2" r="28.9" fill="url(#gCs)"/>
<circle cx="354.4" cy="672.9" r="28.9" fill="url(#gCs)"/>
<circle cx="407.3" cy="672.7" r="29" fill="url(#gCs)"/>
<circle cx="460.4" cy="672.4" r="29.1" fill="url(#gCs)"/>
<circle cx="513.6" cy="672.1" r="29.1" fill="url(#gCs)"/>
<circle cx="321.4" cy="676.8" r="19.5" fill="url(#gBr)"/>
<circle cx="375.2" cy="676.6" r="19.6" fill="url(#gBr)"/>
<circle cx="429.2" cy="676.3" r="19.6" fill="url(#gBr)"/>
<circle cx="483.3" cy="676" r="19.6" fill="url(#gBr)"/>
<circle cx="287.4" cy="680.7" r="29.3" fill="url(#gCs)"/>
<circle cx="342.2" cy="680.4" r="29.4" fill="url(#gCs)"/>
<circle cx="397.1" cy="680.2" r="29.5" fill="url(#gCs)"/>
<circle cx="452.1" cy="679.9" r="29.5" fill="url(#gCs)"/>
<circle cx="507.3" cy="679.6" r="29.6" fill="url(#gCs)"/>
<circle cx="305.9" cy="686.3" r="19.9" fill="url(#gBr)"/>
<circle cx="361.8" cy="686.1" r="19.9" fill="url(#gBr)"/>
<circle cx="417.8" cy="685.8" r="20" fill="url(#gBr)"/>
<circle cx="474" cy="685.5" r="20" fill="url(#gBr)"/>
<circle cx="268.7" cy="692.2" r="29.9" fill="url(#gCs)"/>
<circle cx="325.5" cy="691.9" r="30" fill="url(#gCs)"/>
<circle cx="382.5" cy="691.7" r="30.1" fill="url(#gCs)"/>
<circle cx="439.7" cy="691.4" r="30.1" fill="url(#gCs)"/>
<circle cx="497" cy="691.1" r="30.2" fill="url(#gCs)"/>
<circle cx="289.7" cy="696.3" r="20.3" fill="url(#gBr)"/>
<circle cx="347.6" cy="696.1" r="20.3" fill="url(#gBr)"/>
<circle cx="405.6" cy="695.8" r="20.4" fill="url(#gBr)"/>
<circle cx="463.8" cy="695.5" r="20.4" fill="url(#gBr)"/>
<circle cx="291.7" cy="726.5" r="12.5" fill="url(#gPb)"/>
<circle cx="349.3" cy="726.2" r="12.5" fill="url(#gPb)"/>
<circle cx="407.1" cy="725.9" r="12.5" fill="url(#gPb)"/>
<circle cx="465.1" cy="725.6" r="12.6" fill="url(#gPb)"/>
<circle cx="199.1" cy="761.5" r="30.2" fill="url(#gCs)"/>
<circle cx="257.2" cy="761.2" r="30.2" fill="url(#gCs)"/>
<circle cx="315.4" cy="760.8" r="30.3" fill="url(#gCs)"/>
<circle cx="373.9" cy="760.5" r="30.4" fill="url(#gCs)"/>
<circle cx="432.4" cy="760.1" r="30.5" fill="url(#gCs)"/>
<circle cx="491.2" cy="759.8" r="30.5" fill="url(#gCs)"/>
<circle cx="550.1" cy="759.5" r="30.6" fill="url(#gCs)"/>
<circle cx="284.4" cy="730.8" r="20.4" fill="url(#gBr)"/>
<path d="M323 730.8 Q331 745.2 343.1 755.9 Q355.3 745.4 363.2 731.1 L342.9 699.4 Z" fill="url(#gBrK)"/>
<path d="M381.7 730.5 Q389.7 744.9 401.8 755.6 Q414.1 745.1 422 730.8 L401.6 699 Z" fill="url(#gBrK)"/>
<circle cx="460.5" cy="729.9" r="20.5" fill="url(#gBr)"/>
<circle cx="311.8" cy="700.4" r="30.6" fill="url(#gCs)"/>
<circle cx="370.6" cy="700.2" r="30.7" fill="url(#gCs)"/>
<circle cx="429.6" cy="699.9" r="30.8" fill="url(#gCs)"/>
<circle cx="890.2" cy="670.2" r="29.6" fill="url(#gCs)"/>
<circle cx="944.5" cy="669.9" r="29.7" fill="url(#gCs)"/>
<circle cx="999" cy="669.7" r="29.7" fill="url(#gCs)"/>
<circle cx="1053.7" cy="669.4" r="29.8" fill="url(#gCs)"/>
<circle cx="1108.4" cy="669.1" r="29.9" fill="url(#gCs)"/>
<circle cx="921.7" cy="673.8" r="20" fill="url(#gBr)"/>
<circle cx="977.1" cy="673.6" r="20" fill="url(#gBr)"/>
<circle cx="1032.7" cy="673.3" r="20.1" fill="url(#gBr)"/>
<circle cx="1088.4" cy="673" r="20.1" fill="url(#gBr)"/>
<circle cx="897.9" cy="677.7" r="30.1" fill="url(#gCs)"/>
<circle cx="954.2" cy="677.4" r="30.1" fill="url(#gCs)"/>
<circle cx="1010.8" cy="677.2" r="30.2" fill="url(#gCs)"/>
<circle cx="1067.4" cy="676.9" r="30.3" fill="url(#gCs)"/>
<circle cx="1124.3" cy="676.6" r="30.3" fill="url(#gCs)"/>
<circle cx="928.9" cy="683.3" r="20.4" fill="url(#gBr)"/>
<circle cx="986.4" cy="683.1" r="20.4" fill="url(#gBr)"/>
<circle cx="1044.1" cy="682.8" r="20.5" fill="url(#gBr)"/>
<circle cx="1101.9" cy="682.5" r="20.5" fill="url(#gBr)"/>
<circle cx="902.5" cy="689.2" r="30.7" fill="url(#gCs)"/>
<circle cx="961" cy="688.9" r="30.7" fill="url(#gCs)"/>
<circle cx="1019.7" cy="688.7" r="30.8" fill="url(#gCs)"/>
<circle cx="1078.5" cy="688.4" r="30.9" fill="url(#gCs)"/>
<circle cx="1137.5" cy="688.1" r="31" fill="url(#gCs)"/>
<circle cx="934.6" cy="693.3" r="20.8" fill="url(#gBr)"/>
<circle cx="994.1" cy="693.1" r="20.8" fill="url(#gBr)"/>
<circle cx="1053.8" cy="692.8" r="20.9" fill="url(#gBr)"/>
<circle cx="1113.7" cy="692.5" r="20.9" fill="url(#gBr)"/>
<circle cx="934.2" cy="723.1" r="12.8" fill="url(#gPb)"/>
<circle cx="993.5" cy="722.8" r="12.8" fill="url(#gPb)"/>
<circle cx="1053" cy="722.5" r="12.8" fill="url(#gPb)"/>
<circle cx="1112.7" cy="722.2" r="12.9" fill="url(#gPb)"/>
<circle cx="921.5" cy="714" r="11" fill="url(#gPbL)"/>
<circle cx="928" cy="722" r="9" fill="url(#gPbL)"/>
<circle cx="846.9" cy="757.7" r="30.9" fill="url(#gCs)"/>
<circle cx="906.7" cy="757.4" r="31" fill="url(#gCs)"/>
<circle cx="966.7" cy="757" r="31.1" fill="url(#gCs)"/>
<circle cx="1026.9" cy="756.6" r="31.1" fill="url(#gCs)"/>
<circle cx="1087.2" cy="756.3" r="31.2" fill="url(#gCs)"/>
<circle cx="1147.6" cy="755.9" r="31.3" fill="url(#gCs)"/>
<circle cx="1208.2" cy="755.6" r="31.4" fill="url(#gCs)"/>
<circle cx="937.1" cy="727.4" r="20.9" fill="url(#gBr)"/>
<path d="M977 727.4 Q985.1 742.1 997.6 753.1 Q1010.1 742.4 1018.2 727.7 L997.4 695.2 Z" fill="url(#gBrK)"/>
<path d="M1037.4 727.1 Q1045.6 741.9 1058 752.8 Q1070.6 742.1 1078.7 727.4 L1057.8 694.8 Z" fill="url(#gBrK)"/>
<circle cx="1118.4" cy="726.4" r="21" fill="url(#gBr)"/>
<circle cx="967.7" cy="697.4" r="31.4" fill="url(#gCs)"/>
<circle cx="1028.3" cy="697.2" r="31.4" fill="url(#gCs)"/>
<circle cx="1089" cy="696.9" r="31.5" fill="url(#gCs)"/>
<text x="0" y="590.5" font-size="33" transform="translate(0,590.5) scale(1.25,1) translate(0,-590.5)">c</text>
<text x="168" y="607.2" font-size="28" letter-spacing="0.5">Highly reaction</text>
<text x="168" y="640.9" font-size="28" letter-spacing="0.5">superoxide</text>
<text x="470.5" y="631.2" font-size="28.3" letter-spacing="1">DMSO</text>
<text x="584.5" y="631.2" font-size="28" letter-spacing="0.5">High volatility</text>
<text x="721" y="690" font-size="25" letter-spacing="2.2">P = O</text>
<text x="1119" y="628.8" font-size="27.5" letter-spacing="0.75">P = O with low volatility</text>
<text transform="translate(91,718) rotate(-21)" font-size="26.5" letter-spacing="1.1"><tspan font-style="italic">n</tspan> = 3</text>
<text x="196" y="695.7" font-size="25" font-weight="normal">O</text>
<text x="215.5" y="684" font-size="17.5" font-weight="normal">2*</text>
<text x="295.5" y="705.5" font-size="25" font-weight="normal">O</text>
<text x="315" y="711.8" font-size="15.5" font-weight="normal">2</text>
<line x1="325" y1="688.8" x2="333.5" y2="688.8" stroke="#231f20" stroke-width="1.4"/>
<circle cx="148" cy="820.2" r="15.2" fill="none" stroke="#111" stroke-width="2"/><text x="148" y="827.8" font-size="21.5" text-anchor="middle" fill="#111">1</text>
<circle cx="606" cy="819.5" r="15.2" fill="none" stroke="#111" stroke-width="2"/><text x="606" y="827.1" font-size="21.5" text-anchor="middle" fill="#111">1</text>
<circle cx="1266" cy="816.3" r="15.2" fill="none" stroke="#111" stroke-width="2"/><text x="1266" y="823.9" font-size="21.5" text-anchor="middle" fill="#111">1</text>
<circle cx="257.7" cy="760.4" r="15.2" fill="none" stroke="#111" stroke-width="2"/><text x="257.7" y="768" font-size="21.5" text-anchor="middle" fill="#111">2</text>
<circle cx="430" cy="760" r="15.2" fill="none" stroke="#111" stroke-width="2"/><text x="430" y="767.6" font-size="21.5" text-anchor="middle" fill="#111">2</text>
<circle cx="902.4" cy="756.5" r="15.2" fill="none" stroke="#111" stroke-width="2"/><text x="902.4" y="764.1" font-size="21.5" text-anchor="middle" fill="#111">2</text>
<circle cx="1142.3" cy="756.5" r="15.2" fill="none" stroke="#111" stroke-width="2"/><text x="1142.3" y="764.1" font-size="21.5" text-anchor="middle" fill="#111">2</text>
<circle cx="724" cy="815" r="15.2" fill="none" stroke="#111" stroke-width="2"/><text x="724" y="822.6" font-size="21.5" text-anchor="middle" fill="#111">3</text>
<line x1="73" y1="750.5" x2="158" y2="713.5" stroke="#ffffff" stroke-width="2.4"/>
<path d="M81.5 741.5 L72 751 L85 752.5" fill="none" stroke="#fff" stroke-width="2.4" stroke-linejoin="miter"/>
<path d="M146.5 712.5 L159 713 L151 722" fill="none" stroke="#fff" stroke-width="2.4" stroke-linejoin="miter"/>
<rect x="97.5" y="760" width="84" height="38.5" fill="none" stroke="#fff" stroke-width="3" stroke-dasharray="4.5 3.2"/>
<circle cx="146" cy="609.5" r="8.6" fill="url(#gO)"/><circle cx="134" cy="615.5" r="8.8" fill="url(#gO)"/>
<circle cx="273.2" cy="695.1" r="8.8" fill="url(#gO)"/><circle cx="262.3" cy="686.3" r="8.8" fill="url(#gO)"/>
<line x1="264.5" y1="697.8" x2="273.4" y2="713.5" stroke="#ffffff" stroke-width="1.3" stroke-dasharray="1.6 1.4"/><polygon points="275.4,717 271.7,714.5 275.2,712.5" fill="#ffffff"/>
<path d="M226 694 C232 722 245 733 262 732 C276 731 284 720 290 710" fill="none" stroke="#3a3a3c" stroke-width="3.4"/>
<polygon points="294.2,705 284,712.5 291,720.8" fill="#3a3a3c"/>
<path d="M512.5 641.5 C528 690 548 708 568 707.5 C590 707 605 683 614 662" fill="none" stroke="#3c3c3e" stroke-width="3.4"/>
<polygon points="621.3,644 605,660.8 622,667.3" fill="#3c3c3e"/>
<circle cx="469.5" cy="710.7" r="12" fill="url(#gPbL)"/>
<circle cx="482.6" cy="666.5" r="9" fill="url(#gG)"/><circle cx="507.3" cy="686" r="8.5" fill="url(#gG)"/>
<circle cx="473.4" cy="668" r="9.3" fill="url(#gH)"/><circle cx="489" cy="658" r="8.8" fill="url(#gH)"/><circle cx="511.2" cy="674.3" r="7.8" fill="url(#gH)"/><circle cx="508.6" cy="695.5" r="8.2" fill="url(#gH)"/>
<circle cx="488" cy="681" r="9.5" fill="url(#gS)"/>
<circle cx="502" cy="681.5" r="11" fill="url(#gH)"/>
<circle cx="480" cy="692" r="9.5" fill="url(#gO)"/>
<line x1="482" y1="695.7" x2="469.6" y2="710.3" stroke="#ffffff" stroke-width="1.3" stroke-dasharray="1.6 1.4"/><polygon points="467,713.3 468.1,709 471.1,711.6" fill="#ffffff"/>
<path d="M739 766 L771 766 L770 800 L740 800 Z" fill="#3a393b"/>
<circle cx="757.6" cy="759" r="16" fill="url(#gBrL)"/>
<circle cx="753.8" cy="737.8" r="9" fill="url(#gC)"/>
<circle cx="735.6" cy="724.1" r="8.6" fill="url(#gG)"/>
<circle cx="727.8" cy="729.7" r="8.6" fill="url(#gG)"/>
<circle cx="717.2" cy="727.7" r="8.6" fill="url(#gG)"/>
<circle cx="714.4" cy="719.9" r="8.6" fill="url(#gG)"/>
<circle cx="722.2" cy="714.3" r="8.6" fill="url(#gG)"/>
<circle cx="732.8" cy="716.3" r="8.6" fill="url(#gG)"/>
<circle cx="725" cy="722" r="9" fill="url(#gG)"/>
<circle cx="708.6" cy="716.7" r="9.2" fill="url(#gH)"/>
<circle cx="716" cy="734.5" r="9.8" fill="url(#gH)"/>
<circle cx="737.2" cy="746.8" r="9.2" fill="url(#gH)"/>
<circle cx="722" cy="706" r="7.5" fill="url(#gH)"/>
<circle cx="741" cy="711" r="6.9" fill="url(#gH)"/>
<circle cx="790.5" cy="729.6" r="10.3" fill="url(#gG)"/>
<circle cx="780.6" cy="736.7" r="10.3" fill="url(#gG)"/>
<circle cx="767.1" cy="734.1" r="10.3" fill="url(#gG)"/>
<circle cx="763.5" cy="724.4" r="10.3" fill="url(#gG)"/>
<circle cx="773.4" cy="717.3" r="10.3" fill="url(#gG)"/>
<circle cx="786.9" cy="719.9" r="10.3" fill="url(#gG)"/>
<circle cx="777" cy="727" r="10.8" fill="url(#gG)"/>
<circle cx="771.9" cy="702.3" r="11.5" fill="url(#gH)"/>
<circle cx="793" cy="716.7" r="11.5" fill="url(#gH)"/>
<circle cx="797.5" cy="742.3" r="9.8" fill="url(#gH)"/>
<circle cx="752.3" cy="715" r="8.6" fill="url(#gH)"/>
<circle cx="779.5" cy="755" r="8.6" fill="url(#gH)"/>
<circle cx="756.8" cy="756.6" r="10.5" fill="url(#gO)"/>
<line x1="756.8" y1="758" x2="754.5" y2="778" stroke="#ffffff" stroke-width="1.3" stroke-dasharray="1.6 1.4"/><polygon points="754,782 752.5,777.8 756.5,778.3" fill="#ffffff"/>
<circle cx="1124" cy="708.4" r="12" fill="url(#gPbL)"/>
<circle cx="1148" cy="688" r="8" fill="url(#gC)"/>
<circle cx="1151.7" cy="662.4" r="8.6" fill="url(#gG)"/>
<circle cx="1146.1" cy="671.6" r="8.6" fill="url(#gG)"/>
<circle cx="1138.3" cy="668.2" r="8.6" fill="url(#gG)"/>
<circle cx="1136.3" cy="655.6" r="8.6" fill="url(#gG)"/>
<circle cx="1141.9" cy="646.4" r="8.6" fill="url(#gG)"/>
<circle cx="1149.7" cy="649.8" r="8.6" fill="url(#gG)"/>
<circle cx="1144" cy="659" r="9" fill="url(#gG)"/>
<circle cx="1138.4" cy="637.6" r="9.8" fill="url(#gH)"/>
<circle cx="1129" cy="655" r="9.8" fill="url(#gH)"/>
<circle cx="1135" cy="675" r="9.2" fill="url(#gH)"/>
<circle cx="1160" cy="646" r="6.9" fill="url(#gH)"/>
<circle cx="1183.6" cy="707.1" r="9.8" fill="url(#gG)"/>
<circle cx="1175.1" cy="715.6" r="9.8" fill="url(#gG)"/>
<circle cx="1163.5" cy="712.5" r="9.8" fill="url(#gG)"/>
<circle cx="1160.4" cy="700.9" r="9.8" fill="url(#gG)"/>
<circle cx="1168.9" cy="692.4" r="9.8" fill="url(#gG)"/>
<circle cx="1180.5" cy="695.5" r="9.8" fill="url(#gG)"/>
<circle cx="1172" cy="704" r="10.2" fill="url(#gG)"/>
<circle cx="1185.6" cy="677" r="9.2" fill="url(#gH)"/>
<circle cx="1190" cy="702" r="10.3" fill="url(#gH)"/>
<circle cx="1177" cy="721" r="8.6" fill="url(#gH)"/>
<circle cx="1165" cy="727.3" r="7.5" fill="url(#gH)"/>
<circle cx="1137" cy="697.4" r="9.5" fill="url(#gO)"/>
<line x1="1137" y1="699" x2="1126.9" y2="708.3" stroke="#ffffff" stroke-width="1.3" stroke-dasharray="1.6 1.4"/><polygon points="1124,711 1125.6,706.8 1128.3,709.8" fill="#ffffff"/>
<circle cx="1099" cy="585.7" r="8.8" fill="url(#gO)"/><circle cx="1087" cy="592.5" r="9" fill="url(#gO)"/>
<line x1="1100" y1="609" x2="1112" y2="652" stroke="#231f20" stroke-width="1" stroke-dasharray="1.5 1.3"/>
<line x1="1098" y1="626.5" x2="1110" y2="624.5" stroke="#231f20" stroke-width="1"/><line x1="1103" y1="620.5" x2="1105" y2="631.5" stroke="#231f20" stroke-width="1"/>
<circle cx="71.5" cy="1007.3" r="21" fill="url(#gCsL)"/>
<text x="105.5" y="1016.6" font-size="26.8">Cs</text>
<circle cx="174.2" cy="1007.3" r="19.5" fill="url(#gPbL)"/>
<text x="206.5" y="1016.6" font-size="26.8">Pb</text>
<circle cx="279.4" cy="1007.3" r="21" fill="url(#gBrL)"/>
<text x="312.5" y="1016.6" font-size="26.8">Br</text>
<circle cx="370" cy="1007.3" r="19.5" fill="url(#gO)"/>
<text x="401.5" y="1016.6" font-size="26.8">O</text>
<circle cx="457" cy="1007.3" r="21" fill="url(#gP)"/>
<text x="491" y="1016.6" font-size="26.8">P</text>
<circle cx="560" cy="1007.3" r="22.5" fill="url(#gC)"/>
<text x="594.5" y="1016.6" font-size="26.8">C</text>
<circle cx="645.5" cy="1007.3" r="22" fill="url(#gS)"/>
<text x="679.5" y="1016.6" font-size="26.8">S</text>
<circle cx="734.5" cy="1007.3" r="14" fill="url(#gH)"/>
<text x="760" y="1016.6" font-size="26.8">H</text>
</g>
<g>
<text x="-1" y="1114.5" font-size="37">d</text>
<rect x="51" y="1119.5" width="490.5" height="425.3" fill="none" stroke="#58595b" stroke-width="1.4"/>
<line x1="78.7" y1="1544.8" x2="78.7" y2="1535.8" stroke="#231f20" stroke-width="1.6"/>
<text x="79.3" y="1579" font-size="28" text-anchor="middle" letter-spacing="1.2">0</text>
<line x1="161.6" y1="1544.8" x2="161.6" y2="1535.8" stroke="#231f20" stroke-width="1.6"/>
<text x="162.2" y="1579" font-size="28" text-anchor="middle" letter-spacing="1.2">20</text>
<line x1="244.4" y1="1544.8" x2="244.4" y2="1535.8" stroke="#231f20" stroke-width="1.6"/>
<text x="245" y="1579" font-size="28" text-anchor="middle" letter-spacing="1.2">40</text>
<line x1="327.2" y1="1544.8" x2="327.2" y2="1535.8" stroke="#231f20" stroke-width="1.6"/>
<text x="327.9" y="1579" font-size="28" text-anchor="middle" letter-spacing="1.2">60</text>
<line x1="410.1" y1="1544.8" x2="410.1" y2="1535.8" stroke="#231f20" stroke-width="1.6"/>
<text x="410.7" y="1579" font-size="28" text-anchor="middle" letter-spacing="1.2">80</text>
<line x1="492.9" y1="1544.8" x2="492.9" y2="1535.8" stroke="#231f20" stroke-width="1.6"/>
<text x="493.6" y="1579" font-size="28" text-anchor="middle" letter-spacing="1.2">100</text>
<text x="292.5" y="1620" font-size="28.6" text-anchor="middle" letter-spacing="0.5">PLQY in film (%)</text>
<text transform="translate(29.5,1332.5) rotate(-90)" font-size="29.2" text-anchor="middle" letter-spacing="0.1">Molecule for edge stabilization</text>
<rect x="70.2" y="1256.5" width="15.5" height="15.5" fill="#ee6e7c" stroke="#8a3444" stroke-width="1.6"/>
<rect x="181.9" y="1210.7" width="15.5" height="15.5" fill="#6a5aa8" stroke="#3a2e6a" stroke-width="1.6"/>
<rect x="144.6" y="1302" width="15.5" height="15.5" fill="#f5c050" stroke="#ef7040" stroke-width="1.6"/>
<rect x="173.8" y="1347.7" width="15.5" height="15.5" fill="#7accd0" stroke="#4060b8" stroke-width="1.6"/>
<rect x="223.2" y="1393.2" width="15.5" height="15.5" fill="#72c48a" stroke="#1e3a24" stroke-width="1.6"/>
<rect x="221.6" y="1483" width="15.5" height="15.5" fill="#b4b6b8" stroke="#151515" stroke-width="1.6"/>
<rect x="451.2" y="1165.2" width="15.5" height="15.5" fill="#9050a8" stroke="#3a2048" stroke-width="1.6"/>
<rect x="471.4" y="1438.8" width="15.5" height="15.5" fill="#f2a090" stroke="#e04a40" stroke-width="1.6"/>
<polygon points="107.7,1246.7 120.5,1254.1 120.5,1268.9 107.7,1276.3 94.9,1268.9 94.9,1254.1" fill="none" stroke="#3a3a3a" stroke-width="1.2" stroke-linejoin="miter"/><line x1="109.4" y1="1250.9" x2="116" y2="1254.7" stroke="#3a3a3a" stroke-width="1.2"/><line x1="116" y1="1268.3" x2="109.4" y2="1272.1" stroke="#3a3a3a" stroke-width="1.2"/><line x1="97.7" y1="1265.3" x2="97.7" y2="1257.7" stroke="#3a3a3a" stroke-width="1.2"/>
<line x1="120.5" y1="1254.1" x2="129" y2="1249.5" stroke="#3a3a3a" stroke-width="1.2"/>
<text x="134" y="1252.5" font-size="12.5" font-weight="normal" text-anchor="middle" fill="#e8606e">N</text>
<line x1="138" y1="1252" x2="143" y2="1254.8" stroke="#e8606e" stroke-width="1"/><line x1="137" y1="1254" x2="142" y2="1256.8" stroke="#e8606e" stroke-width="1"/>
<text x="148" y="1261.8" font-size="12.5" font-weight="normal" text-anchor="middle" fill="#e8606e">O</text>
<polygon points="220.4,1203.6 233.5,1211.2 233.5,1226.2 220.4,1233.8 207.3,1226.2 207.3,1211.2" fill="none" stroke="#3a3a3a" stroke-width="1.2" stroke-linejoin="miter"/><line x1="222.1" y1="1207.9" x2="228.9" y2="1211.8" stroke="#3a3a3a" stroke-width="1.2"/><line x1="228.9" y1="1225.6" x2="222.1" y2="1229.5" stroke="#3a3a3a" stroke-width="1.2"/><line x1="210.2" y1="1222.6" x2="210.2" y2="1214.8" stroke="#3a3a3a" stroke-width="1.2"/>
<polygon points="273,1203.6 286.1,1211.2 286.1,1226.2 273,1233.8 259.9,1226.2 259.9,1211.2" fill="none" stroke="#3a3a3a" stroke-width="1.2" stroke-linejoin="miter"/><line x1="264.5" y1="1211.8" x2="271.3" y2="1207.9" stroke="#3a3a3a" stroke-width="1.2"/><line x1="283.2" y1="1214.8" x2="283.2" y2="1222.6" stroke="#3a3a3a" stroke-width="1.2"/><line x1="271.3" y1="1229.5" x2="264.5" y2="1225.6" stroke="#3a3a3a" stroke-width="1.2"/>
<line x1="233.5" y1="1211.2" x2="241" y2="1207.2" stroke="#3a3a3a" stroke-width="1.2"/><line x1="251.5" y1="1207.2" x2="259.9" y2="1211.2" stroke="#3a3a3a" stroke-width="1.2"/>
<text x="246.4" y="1211.4" font-size="12.5" font-weight="normal" text-anchor="middle" fill="#6a5ab0">S</text>
<line x1="245.3" y1="1194" x2="245.3" y2="1200.5" stroke="#6a5ab0" stroke-width="1"/><line x1="247.5" y1="1194" x2="247.5" y2="1200.5" stroke="#6a5ab0" stroke-width="1"/>
<text x="246.4" y="1192" font-size="12.5" font-weight="normal" text-anchor="middle" fill="#6a5ab0">O</text>
<polygon points="181.7,1287.7 194.8,1295.2 194.8,1310.3 181.7,1317.9 168.6,1310.3 168.6,1295.2" fill="none" stroke="#3a3a3a" stroke-width="1.2" stroke-linejoin="miter"/><line x1="183.4" y1="1292" x2="190.2" y2="1295.9" stroke="#3a3a3a" stroke-width="1.2"/><line x1="190.2" y1="1309.7" x2="183.4" y2="1313.6" stroke="#3a3a3a" stroke-width="1.2"/><line x1="171.5" y1="1306.7" x2="171.5" y2="1298.9" stroke="#3a3a3a" stroke-width="1.2"/>
<polygon points="241.8,1287.7 254.9,1295.2 254.9,1310.3 241.8,1317.9 228.7,1310.3 228.7,1295.2" fill="none" stroke="#3a3a3a" stroke-width="1.2" stroke-linejoin="miter"/><line x1="233.3" y1="1295.9" x2="240.1" y2="1292" stroke="#3a3a3a" stroke-width="1.2"/><line x1="252" y1="1298.9" x2="252" y2="1306.7" stroke="#3a3a3a" stroke-width="1.2"/><line x1="240.1" y1="1313.6" x2="233.3" y2="1309.7" stroke="#3a3a3a" stroke-width="1.2"/>
<line x1="194.8" y1="1295.3" x2="206" y2="1289.5" stroke="#3a3a3a" stroke-width="1.2"/><line x1="216" y1="1289.5" x2="228.7" y2="1295.3" stroke="#3a3a3a" stroke-width="1.2"/>
<text x="211" y="1292" font-size="12.5" font-weight="normal" text-anchor="middle" fill="#f5b030">C</text>
<line x1="209.9" y1="1276.5" x2="209.9" y2="1283" stroke="#f5b030" stroke-width="1"/><line x1="212.1" y1="1276.5" x2="212.1" y2="1283" stroke="#f5b030" stroke-width="1"/>
<text x="211" y="1274.5" font-size="12.5" font-weight="normal" text-anchor="middle" fill="#f5b030">O</text>
<polygon points="199.2,1337.1 211.8,1337.1 218.1,1348 211.8,1358.9 199.2,1358.9 192.9,1348" fill="none" stroke="#3a3a3a" stroke-width="1.2" stroke-linejoin="miter"/><line x1="202.3" y1="1339.5" x2="208.7" y2="1339.5" stroke="#3a3a3a" stroke-width="1.2"/><line x1="214.5" y1="1349.4" x2="211.2" y2="1355.1" stroke="#3a3a3a" stroke-width="1.2"/><line x1="199.8" y1="1355.1" x2="196.5" y2="1349.4" stroke="#3a3a3a" stroke-width="1.2"/><polygon points="250.2,1337.1 262.8,1337.1 269.1,1348 262.8,1358.9 250.2,1358.9 243.9,1348" fill="none" stroke="#3a3a3a" stroke-width="1.2" stroke-linejoin="miter"/><line x1="253.3" y1="1339.5" x2="259.7" y2="1339.5" stroke="#3a3a3a" stroke-width="1.2"/><line x1="265.5" y1="1349.4" x2="262.2" y2="1355.1" stroke="#3a3a3a" stroke-width="1.2"/><line x1="250.8" y1="1355.1" x2="247.5" y2="1349.4" stroke="#3a3a3a" stroke-width="1.2"/><polygon points="231,1362.5 241.9,1368.8 241.9,1381.4 231,1387.7 220.1,1381.4 220.1,1368.8" fill="none" stroke="#3a3a3a" stroke-width="1.2" stroke-linejoin="miter"/><line x1="223.9" y1="1369.3" x2="229.6" y2="1366.1" stroke="#3a3a3a" stroke-width="1.2"/><line x1="239.5" y1="1371.8" x2="239.5" y2="1378.3" stroke="#3a3a3a" stroke-width="1.2"/><line x1="229.6" y1="1384.1" x2="223.9" y2="1380.8" stroke="#3a3a3a" stroke-width="1.2"/><line x1="218.1" y1="1348" x2="225" y2="1348" stroke="#3a3a3a" stroke-width="1.2"/><line x1="237" y1="1348" x2="243.9" y2="1348" stroke="#3a3a3a" stroke-width="1.2"/><line x1="231" y1="1354" x2="231" y2="1362.5" stroke="#3a3a3a" stroke-width="1.2"/><text x="231" y="1352.5" font-size="12.5" font-weight="normal" text-anchor="middle" fill="#3a90c8">P</text><line x1="229.9" y1="1336" x2="229.9" y2="1341" stroke="#3a90c8" stroke-width="1"/><line x1="232.1" y1="1336" x2="232.1" y2="1341" stroke="#3a90c8" stroke-width="1"/><text x="231" y="1335" font-size="12.5" font-weight="normal" text-anchor="middle" fill="#3a90c8">Se</text>
<polygon points="251.1,1390.7 265.3,1390.7 272.4,1403 265.3,1415.3 251.1,1415.3 244,1403" fill="none" stroke="#3a3a3a" stroke-width="1.2" stroke-linejoin="miter"/><line x1="254.5" y1="1393.4" x2="261.9" y2="1393.4" stroke="#3a3a3a" stroke-width="1.2"/><line x1="268.3" y1="1404.6" x2="264.7" y2="1411" stroke="#3a3a3a" stroke-width="1.2"/><line x1="251.7" y1="1411" x2="248.1" y2="1404.6" stroke="#3a3a3a" stroke-width="1.2"/><polygon points="306.7,1390.7 320.9,1390.7 328,1403 320.9,1415.3 306.7,1415.3 299.6,1403" fill="none" stroke="#3a3a3a" stroke-width="1.2" stroke-linejoin="miter"/><line x1="310.1" y1="1393.4" x2="317.5" y2="1393.4" stroke="#3a3a3a" stroke-width="1.2"/><line x1="323.9" y1="1404.6" x2="320.3" y2="1411" stroke="#3a3a3a" stroke-width="1.2"/><line x1="307.3" y1="1411" x2="303.7" y2="1404.6" stroke="#3a3a3a" stroke-width="1.2"/><polygon points="286,1419.3 298.3,1426.4 298.3,1440.6 286,1447.7 273.7,1440.6 273.7,1426.4" fill="none" stroke="#3a3a3a" stroke-width="1.2" stroke-linejoin="miter"/><line x1="278" y1="1427.1" x2="284.4" y2="1423.4" stroke="#3a3a3a" stroke-width="1.2"/><line x1="295.6" y1="1429.9" x2="295.6" y2="1437.2" stroke="#3a3a3a" stroke-width="1.2"/><line x1="284.4" y1="1443.7" x2="278" y2="1440" stroke="#3a3a3a" stroke-width="1.2"/><line x1="272.4" y1="1403" x2="280" y2="1403" stroke="#3a3a3a" stroke-width="1.2"/><line x1="292" y1="1403" x2="299.6" y2="1403" stroke="#3a3a3a" stroke-width="1.2"/><line x1="286" y1="1409" x2="286" y2="1419.3" stroke="#3a3a3a" stroke-width="1.2"/><text x="286" y="1407.5" font-size="12.5" font-weight="normal" text-anchor="middle" fill="#6cc47e">P</text><line x1="284.9" y1="1391" x2="284.9" y2="1396" stroke="#6cc47e" stroke-width="1"/><line x1="287.1" y1="1391" x2="287.1" y2="1396" stroke="#6cc47e" stroke-width="1"/><text x="286" y="1390" font-size="12.5" font-weight="normal" text-anchor="middle" fill="#6cc47e">S</text>
<polygon points="445.4,1196.3 460.6,1196.3 468.2,1209.5 460.6,1222.7 445.4,1222.7 437.8,1209.5" fill="none" stroke="#3a3a3a" stroke-width="1.2" stroke-linejoin="miter"/><line x1="449.1" y1="1199.2" x2="456.9" y2="1199.2" stroke="#3a3a3a" stroke-width="1.2"/><line x1="463.8" y1="1211.2" x2="459.9" y2="1218" stroke="#3a3a3a" stroke-width="1.2"/><line x1="446.1" y1="1218" x2="442.2" y2="1211.2" stroke="#3a3a3a" stroke-width="1.2"/><polygon points="505.4,1196.3 520.6,1196.3 528.2,1209.5 520.6,1222.7 505.4,1222.7 497.8,1209.5" fill="none" stroke="#3a3a3a" stroke-width="1.2" stroke-linejoin="miter"/><line x1="509.1" y1="1199.2" x2="516.9" y2="1199.2" stroke="#3a3a3a" stroke-width="1.2"/><line x1="523.8" y1="1211.2" x2="519.9" y2="1218" stroke="#3a3a3a" stroke-width="1.2"/><line x1="506.1" y1="1218" x2="502.2" y2="1211.2" stroke="#3a3a3a" stroke-width="1.2"/><polygon points="483,1227 496.2,1234.6 496.2,1249.8 483,1257.4 469.8,1249.8 469.8,1234.6" fill="none" stroke="#3a3a3a" stroke-width="1.2" stroke-linejoin="miter"/><line x1="474.5" y1="1235.2" x2="481.3" y2="1231.3" stroke="#3a3a3a" stroke-width="1.2"/><line x1="493.3" y1="1238.3" x2="493.3" y2="1246.1" stroke="#3a3a3a" stroke-width="1.2"/><line x1="481.3" y1="1253" x2="474.5" y2="1249.1" stroke="#3a3a3a" stroke-width="1.2"/><line x1="468.2" y1="1209.5" x2="477" y2="1209.5" stroke="#3a3a3a" stroke-width="1.2"/><line x1="489" y1="1209.5" x2="497.8" y2="1209.5" stroke="#3a3a3a" stroke-width="1.2"/><line x1="483" y1="1215.5" x2="483" y2="1227" stroke="#3a3a3a" stroke-width="1.2"/><text x="483" y="1214.4" font-size="13.5" text-anchor="middle" fill="#9048a8">As</text><line x1="481.9" y1="1197.5" x2="481.9" y2="1202.5" stroke="#9048a8" stroke-width="1"/><line x1="484.1" y1="1197.5" x2="484.1" y2="1202.5" stroke="#9048a8" stroke-width="1"/><text x="483" y="1196.5" font-size="12.5" font-weight="normal" text-anchor="middle" fill="#9048a8">O</text>
<polygon points="442.3,1467.2 457.7,1467.2 465.4,1480.5 457.7,1493.8 442.3,1493.8 434.6,1480.5" fill="none" stroke="#3a3a3a" stroke-width="1.2" stroke-linejoin="miter"/><line x1="446" y1="1470.1" x2="454" y2="1470.1" stroke="#3a3a3a" stroke-width="1.2"/><line x1="461" y1="1482.3" x2="457" y2="1489.1" stroke="#3a3a3a" stroke-width="1.2"/><line x1="443" y1="1489.1" x2="439" y2="1482.3" stroke="#3a3a3a" stroke-width="1.2"/><polygon points="502.3,1467.2 517.7,1467.2 525.4,1480.5 517.7,1493.8 502.3,1493.8 494.6,1480.5" fill="none" stroke="#3a3a3a" stroke-width="1.2" stroke-linejoin="miter"/><line x1="506" y1="1470.1" x2="514" y2="1470.1" stroke="#3a3a3a" stroke-width="1.2"/><line x1="521" y1="1482.3" x2="517" y2="1489.1" stroke="#3a3a3a" stroke-width="1.2"/><line x1="503" y1="1489.1" x2="499" y2="1482.3" stroke="#3a3a3a" stroke-width="1.2"/><polygon points="480,1498.2 493.3,1505.9 493.3,1521.3 480,1529 466.7,1521.3 466.7,1505.9" fill="none" stroke="#3a3a3a" stroke-width="1.2" stroke-linejoin="miter"/><line x1="471.4" y1="1506.6" x2="478.2" y2="1502.6" stroke="#3a3a3a" stroke-width="1.2"/><line x1="490.4" y1="1509.6" x2="490.4" y2="1517.6" stroke="#3a3a3a" stroke-width="1.2"/><line x1="478.2" y1="1524.6" x2="471.4" y2="1520.6" stroke="#3a3a3a" stroke-width="1.2"/><line x1="465.4" y1="1480.5" x2="474" y2="1480.5" stroke="#3a3a3a" stroke-width="1.2"/><line x1="486" y1="1480.5" x2="494.6" y2="1480.5" stroke="#3a3a3a" stroke-width="1.2"/><line x1="480" y1="1486.5" x2="480" y2="1498.2" stroke="#3a3a3a" stroke-width="1.2"/><text x="480" y="1485" font-size="12.5" font-weight="normal" text-anchor="middle" fill="#c82828">P</text><line x1="478.9" y1="1468.5" x2="478.9" y2="1473.5" stroke="#c82828" stroke-width="1"/><line x1="481.1" y1="1468.5" x2="481.1" y2="1473.5" stroke="#c82828" stroke-width="1"/><text x="480" y="1467.5" font-size="12.5" font-weight="normal" text-anchor="middle" fill="#c82828">O</text>
<text x="247" y="1498" font-size="20" fill="#b8babc" letter-spacing="0.3">No protection</text>
</g>
<g>
<text x="589" y="1117.5" font-size="41">e</text>
<line x1="690.7" y1="1117.7" x2="1457.2" y2="1117.7" stroke="#111" stroke-width="1.6"/>
<line x1="690.7" y1="1116.9" x2="690.7" y2="1545.6" stroke="#111" stroke-width="2.2"/>
<line x1="1457.2" y1="1116.9" x2="1457.2" y2="1545.6" stroke="#111" stroke-width="2.6"/>
<line x1="689.7" y1="1544.6" x2="1458.5" y2="1544.6" stroke="#111" stroke-width="2.3"/>
<line x1="690.7" y1="1544.6" x2="704.7" y2="1544.6" stroke="#111" stroke-width="2.2"/>
<text x="677.5" y="1554.4" font-size="28" text-anchor="end" letter-spacing="0.6">0.0</text>
<line x1="690.7" y1="1467" x2="704.7" y2="1467" stroke="#111" stroke-width="2.2"/>
<text x="677.5" y="1476.8" font-size="28" text-anchor="end" letter-spacing="0.6">0.2</text>
<line x1="690.7" y1="1389.3" x2="704.7" y2="1389.3" stroke="#111" stroke-width="2.2"/>
<text x="677.5" y="1399.1" font-size="28" text-anchor="end" letter-spacing="0.6">0.4</text>
<line x1="690.7" y1="1311.7" x2="704.7" y2="1311.7" stroke="#111" stroke-width="2.2"/>
<text x="677.5" y="1321.5" font-size="28" text-anchor="end" letter-spacing="0.6">0.6</text>
<line x1="690.7" y1="1234" x2="704.7" y2="1234" stroke="#111" stroke-width="2.2"/>
<text x="677.5" y="1243.8" font-size="28" text-anchor="end" letter-spacing="0.6">0.8</text>
<line x1="690.7" y1="1156.4" x2="704.7" y2="1156.4" stroke="#111" stroke-width="2.2"/>
<text x="677.5" y="1166.2" font-size="28" text-anchor="end" letter-spacing="0.6">1.0</text>
<line x1="716.7" y1="1544.6" x2="716.7" y2="1536.6" stroke="#111" stroke-width="2"/>
<line x1="741.8" y1="1544.6" x2="741.8" y2="1536.6" stroke="#111" stroke-width="2"/>
<line x1="759.6" y1="1544.6" x2="759.6" y2="1536.6" stroke="#111" stroke-width="2"/>
<line x1="773.4" y1="1544.6" x2="773.4" y2="1536.6" stroke="#111" stroke-width="2"/>
<line x1="784.6" y1="1544.6" x2="784.6" y2="1536.6" stroke="#111" stroke-width="2"/>
<line x1="794.2" y1="1544.6" x2="794.2" y2="1536.6" stroke="#111" stroke-width="2"/>
<line x1="802.4" y1="1544.6" x2="802.4" y2="1536.6" stroke="#111" stroke-width="2"/>
<line x1="809.7" y1="1544.6" x2="809.7" y2="1536.6" stroke="#111" stroke-width="2"/>
<line x1="816.2" y1="1544.6" x2="816.2" y2="1529.6" stroke="#111" stroke-width="2"/>
<line x1="859" y1="1544.6" x2="859" y2="1536.6" stroke="#111" stroke-width="2"/>
<line x1="884.1" y1="1544.6" x2="884.1" y2="1536.6" stroke="#111" stroke-width="2"/>
<line x1="901.9" y1="1544.6" x2="901.9" y2="1536.6" stroke="#111" stroke-width="2"/>
<line x1="915.7" y1="1544.6" x2="915.7" y2="1536.6" stroke="#111" stroke-width="2"/>
<line x1="926.9" y1="1544.6" x2="926.9" y2="1536.6" stroke="#111" stroke-width="2"/>
<line x1="936.5" y1="1544.6" x2="936.5" y2="1536.6" stroke="#111" stroke-width="2"/>
<line x1="944.7" y1="1544.6" x2="944.7" y2="1536.6" stroke="#111" stroke-width="2"/>
<line x1="952" y1="1544.6" x2="952" y2="1536.6" stroke="#111" stroke-width="2"/>
<line x1="958.5" y1="1544.6" x2="958.5" y2="1529.6" stroke="#111" stroke-width="2"/>
<line x1="1001.3" y1="1544.6" x2="1001.3" y2="1536.6" stroke="#111" stroke-width="2"/>
<line x1="1026.4" y1="1544.6" x2="1026.4" y2="1536.6" stroke="#111" stroke-width="2"/>
<line x1="1044.2" y1="1544.6" x2="1044.2" y2="1536.6" stroke="#111" stroke-width="2"/>
<line x1="1058" y1="1544.6" x2="1058" y2="1536.6" stroke="#111" stroke-width="2"/>
<line x1="1069.2" y1="1544.6" x2="1069.2" y2="1536.6" stroke="#111" stroke-width="2"/>
<line x1="1078.8" y1="1544.6" x2="1078.8" y2="1536.6" stroke="#111" stroke-width="2"/>
<line x1="1087" y1="1544.6" x2="1087" y2="1536.6" stroke="#111" stroke-width="2"/>
<line x1="1094.3" y1="1544.6" x2="1094.3" y2="1536.6" stroke="#111" stroke-width="2"/>
<line x1="1100.8" y1="1544.6" x2="1100.8" y2="1529.6" stroke="#111" stroke-width="2"/>
<line x1="1143.6" y1="1544.6" x2="1143.6" y2="1536.6" stroke="#111" stroke-width="2"/>
<line x1="1168.7" y1="1544.6" x2="1168.7" y2="1536.6" stroke="#111" stroke-width="2"/>
<line x1="1186.5" y1="1544.6" x2="1186.5" y2="1536.6" stroke="#111" stroke-width="2"/>
<line x1="1200.3" y1="1544.6" x2="1200.3" y2="1536.6" stroke="#111" stroke-width="2"/>
<line x1="1211.5" y1="1544.6" x2="1211.5" y2="1536.6" stroke="#111" stroke-width="2"/>
<line x1="1221.1" y1="1544.6" x2="1221.1" y2="1536.6" stroke="#111" stroke-width="2"/>
<line x1="1229.3" y1="1544.6" x2="1229.3" y2="1536.6" stroke="#111" stroke-width="2"/>
<line x1="1236.6" y1="1544.6" x2="1236.6" y2="1536.6" stroke="#111" stroke-width="2"/>
<line x1="1243.1" y1="1544.6" x2="1243.1" y2="1529.6" stroke="#111" stroke-width="2"/>
<line x1="1285.9" y1="1544.6" x2="1285.9" y2="1536.6" stroke="#111" stroke-width="2"/>
<line x1="1311" y1="1544.6" x2="1311" y2="1536.6" stroke="#111" stroke-width="2"/>
<line x1="1328.8" y1="1544.6" x2="1328.8" y2="1536.6" stroke="#111" stroke-width="2"/>
<line x1="1342.6" y1="1544.6" x2="1342.6" y2="1536.6" stroke="#111" stroke-width="2"/>
<line x1="1353.8" y1="1544.6" x2="1353.8" y2="1536.6" stroke="#111" stroke-width="2"/>
<line x1="1363.4" y1="1544.6" x2="1363.4" y2="1536.6" stroke="#111" stroke-width="2"/>
<line x1="1371.6" y1="1544.6" x2="1371.6" y2="1536.6" stroke="#111" stroke-width="2"/>
<line x1="1378.9" y1="1544.6" x2="1378.9" y2="1536.6" stroke="#111" stroke-width="2"/>
<line x1="1385.4" y1="1544.6" x2="1385.4" y2="1529.6" stroke="#111" stroke-width="2"/>
<line x1="1428.2" y1="1544.6" x2="1428.2" y2="1536.6" stroke="#111" stroke-width="2"/>
<line x1="1453.3" y1="1544.6" x2="1453.3" y2="1536.6" stroke="#111" stroke-width="2"/>
<text x="816.8" y="1579" font-size="27" text-anchor="middle" letter-spacing="1.2">0.01</text>
<text x="959.1" y="1579" font-size="27" text-anchor="middle" letter-spacing="1.2">0.1</text>
<text x="1101.4" y="1579" font-size="27" text-anchor="middle" letter-spacing="1.2">1</text>
<text x="1243.7" y="1579" font-size="27" text-anchor="middle" letter-spacing="1.2">10</text>
<text x="1386" y="1579" font-size="27" text-anchor="middle" letter-spacing="1.2">100</text>
<text x="1070.5" y="1616.5" font-size="28.5" text-anchor="middle" letter-spacing="0.4">Delay (ps)</text>
<text transform="translate(615,1339) rotate(-90)" font-size="28.6" text-anchor="middle" letter-spacing="0.3">Normalized PL (516 nm)</text>
<line x1="752.7" y1="1282.3" x2="752.7" y2="1482.6" stroke="#111" stroke-width="2"/>
<line x1="751.7" y1="1481.6" x2="1054" y2="1481.6" stroke="#111" stroke-width="2.2"/>
<line x1="814.7" y1="1481.6" x2="814.7" y2="1473.1" stroke="#111" stroke-width="2"/>
<text x="815.2" y="1502.3" font-size="16.5" font-weight="normal" text-anchor="middle" stroke="#231f20" stroke-width="0.4">480</text>
<line x1="894.3" y1="1481.6" x2="894.3" y2="1473.1" stroke="#111" stroke-width="2"/>
<text x="894.8" y="1502.3" font-size="16.5" font-weight="normal" text-anchor="middle" stroke="#231f20" stroke-width="0.4">520</text>
<line x1="973.9" y1="1481.6" x2="973.9" y2="1473.1" stroke="#111" stroke-width="2"/>
<text x="974.4" y="1502.3" font-size="16.5" font-weight="normal" text-anchor="middle" stroke="#231f20" stroke-width="0.4">560</text>
<line x1="1053.5" y1="1481.6" x2="1053.5" y2="1473.1" stroke="#111" stroke-width="2"/>
<text x="1054" y="1502.3" font-size="16.5" font-weight="normal" text-anchor="middle" stroke="#231f20" stroke-width="0.4">600</text>
<text x="915.5" y="1520.7" font-size="16.6" text-anchor="middle">Wavelength (nm)</text>
<text transform="translate(737.5,1371) rotate(-90)" font-size="22.8" text-anchor="middle">PL Intensity</text>
<path d="M781 1478.8 800 1477.5 802.3 1477 804.6 1477.8 806.9 1476.6 809.1 1477.3 811.4 1476.8 813.7 1476.1 816 1476.8 818.3 1475.8 820.5 1476.3 822.8 1475.5 825.1 1475.4 827.4 1475.9 829.7 1476 832 1474.2 834.2 1473.8 836.5 1474 838.8 1474 841.1 1472.7 843.4 1471.4 845.7 1471.4 848 1468.7 850.2 1469.2 852.5 1467.1 854.8 1465.9 857.1 1463.5 859.4 1461.6 861.7 1460.2 864 1455.8 866.2 1453.3 868.5 1450.3 870.8 1445.7 873.1 1441.9 875.4 1436.9 878.1 1430.7 880.9 1424.8 883.6 1418.1 886.4 1410.1 889.1 1405.8 891.9 1402.2 894.6 1397.8 897.3 1393.4 901.5 1392.9 904.2 1392.4 906.9 1391.2 909.2 1391.2 911.5 1390.4 913.8 1390.4 917.9 1396.9 920.6 1403 923.4 1405 926.1 1404.1 928.9 1412.9 931.6 1421.7 934.4 1424 937.1 1428.1 941.2 1439.6 943.5 1444.8 945.8 1449.1 948.1 1452.8 950.5 1456.5 952.9 1458.6 955.3 1462.4 957.7 1465.3 960 1466.6 962.3 1467.8 964.5 1469.8 966.8 1471.4 969.1 1471.9 971.4 1473.6 973.7 1473.1 976 1474.8 978.2 1475.3 980.5 1476.5 982.8 1476.7 985.1 1476.3 987.6 1476.8 990.1 1477.6 992.5 1476.7 995 1477.8 997.5 1477.6 1000 1477.8 1002.3 1477.8 1004.5 1479.1 1006.8 1478.1 1009.1 1478.3 1011.4 1478.7 1013.6 1479.6 1015.9 1478.3 1018.2 1479 1020.5 1479.2 1022.7 1479.9 1025 1479.9 1027.3 1480 1029.5 1479 1031.8 1479.2 1034.1 1479.2 1036.4 1480.1 1038.6 1480.3 1040.9 1478.9 1043.2 1478.9 1045.5 1479.1 1047.7 1479.1 1050 1479.6" fill="none" stroke="#6d6e70" stroke-width="2.6" stroke-linejoin="round"/>
<line x1="755" y1="1479.8" x2="775" y2="1479.8" stroke="#6d6e70" stroke-width="1.6" stroke-dasharray="1.2 3.5"/>
<path d="M774.5 1480.3 C777.1 1480.2 785.8 1479.9 790 1479.6 C794.2 1479.3 796 1479.1 800 1478.6 C804 1478.1 809.1 1477.5 813.7 1476.7 C818.3 1475.9 823.8 1475.5 827.4 1474 C831 1472.5 832.9 1470.9 835.6 1467.8 C838.4 1464.7 841.4 1460.5 843.9 1455.5 C846.4 1450.5 848.7 1444.1 850.7 1437.7 C852.8 1431.3 854.6 1424 856.2 1417.1 C857.8 1410.2 858.9 1404.5 860.3 1396.5 C861.7 1388.5 863 1378.2 864.4 1369.1 C865.8 1360 867.1 1350.2 868.5 1341.7 C869.9 1333.2 871.3 1325 872.7 1318.4 C874.1 1311.8 875.2 1306 876.8 1301.9 C878.4 1297.8 880.8 1294.8 882.3 1293.7 C883.8 1292.6 884.3 1292.8 885.7 1295.1 C887.1 1297.4 888.8 1301.9 890.5 1307.4 C892.2 1312.9 894.2 1320.7 896 1328 C897.8 1335.3 899.7 1343.5 901.5 1351.3 C903.3 1359.1 905.3 1368.7 906.9 1374.6 C908.5 1380.5 909.4 1382.1 911 1386.9 C912.6 1391.7 914.4 1397.9 916.5 1403.4 C918.6 1408.9 921.1 1414.5 923.4 1419.8 C925.7 1425 927.9 1430.3 930.2 1434.9 C932.5 1439.5 934.6 1443.2 937.1 1447.3 C939.6 1451.4 942.3 1456.2 945.3 1459.6 C948.3 1463 951.7 1465.6 954.9 1467.8 C958.1 1470 960.6 1471.2 964.5 1472.6 C968.4 1474 972.3 1475.1 978.2 1476 C984.1 1476.9 992.2 1477.5 1000 1478.1 C1007.8 1478.6 1016.7 1479 1025 1479.3 C1033.3 1479.5 1045.8 1479.5 1050 1479.6" fill="none" stroke="#1e9cc4" stroke-width="2.6"/>
<line x1="860.8" y1="1397.9" x2="914" y2="1397.9" stroke="#6d6e71" stroke-width="1.1"/><path d="M864.3 1394.9 L860.8 1397.9 L864.3 1400.9" fill="none" stroke="#6d6e71" stroke-width="1.1"/><path d="M910.5 1394.9 L914 1397.9 L910.5 1400.9" fill="none" stroke="#6d6e71" stroke-width="1.1"/>
<text x="874" y="1389" font-size="20" letter-spacing="0.8">28</text>
<line x1="885.7" y1="1323.9" x2="896.5" y2="1366" stroke="#111" stroke-width="2" stroke-dasharray="4.5 3"/>
<polygon points="898.8,1375 892.5,1363.5 897,1366.5 900.8,1362" fill="#231f20"/>
<line x1="1034.5" y1="1163" x2="1034.5" y2="1341" stroke="#111" stroke-width="2"/>
<line x1="1033.5" y1="1340" x2="1249" y2="1340" stroke="#111" stroke-width="2.2"/>
<line x1="1078.8" y1="1340" x2="1078.8" y2="1347" stroke="#111" stroke-width="2"/>
<text x="1079.3" y="1365.3" font-size="16" font-weight="normal" text-anchor="middle" stroke="#231f20" stroke-width="0.4">480</text>
<line x1="1135.3" y1="1340" x2="1135.3" y2="1347" stroke="#111" stroke-width="2"/>
<text x="1135.8" y="1365.3" font-size="16" font-weight="normal" text-anchor="middle" stroke="#231f20" stroke-width="0.4">520</text>
<line x1="1191.8" y1="1340" x2="1191.8" y2="1347" stroke="#111" stroke-width="2"/>
<text x="1192.3" y="1365.3" font-size="16" font-weight="normal" text-anchor="middle" stroke="#231f20" stroke-width="0.4">560</text>
<line x1="1248.3" y1="1340" x2="1248.3" y2="1347" stroke="#111" stroke-width="2"/>
<text x="1248.8" y="1365.3" font-size="16" font-weight="normal" text-anchor="middle" stroke="#231f20" stroke-width="0.4">600</text>
<text x="1153" y="1386" font-size="16" text-anchor="middle">Wavelength (nm)</text>
<text transform="translate(1020.4,1252) rotate(-90)" font-size="20.9" text-anchor="middle">PL Intensity</text>
<path d="M1037 1335.2 1038.6 1334.8 1040.2 1335.1 1041.8 1335.3 1043.4 1335.5 1045 1335.4 1046.6 1334.4 1048.2 1335.7 1049.8 1335.7 1051.4 1335 1053 1335.4 1054.6 1334.4 1056.2 1334.6 1057.8 1334.4 1059.4 1334.5 1061 1334.9 1062.6 1335.7 1064.2 1334.4 1065.8 1334.8 1067.4 1334.3 1069 1335.8 1070.6 1334.9 1072.2 1334.1 1073.8 1334.3 1075.4 1334 1077 1335.3 1078.6 1333.7 1080.2 1333.3 1081.8 1334.8 1083.4 1334 1085 1333.1 1086.6 1333.4 1087.4 1333.1 1088.2 1331.9 1089 1332.9 1089.8 1332.3 1090.6 1331.8 1091.4 1331 1092.2 1330.6 1093 1330.1 1093.8 1329.5 1094.6 1328.9 1095.4 1328.3 1096.2 1327.6 1097 1326.8 1097.8 1325.9 1098.6 1324.9 1099.4 1323.9 1100.2 1322.7 1101 1321.5 1101.8 1320.1 1102.6 1318.6 1103.4 1316.9 1104.2 1315.1 1105 1313.1 1105.8 1310.9 1106.6 1308.5 1107.4 1306 1108.2 1303.2 1109 1300.1 1109.8 1296.9 1110.6 1293.4 1111.4 1289.6 1112.2 1285.6 1113 1281.3 1113.8 1276.7 1114.6 1271.8 1115.4 1266.7 1116.2 1261.3 1117 1255.7 1117.8 1249.9 1118.6 1243.9 1119.4 1237.8 1120.2 1231.6 1121 1225.4 1121.8 1219.2 1122.6 1213.1 1123.4 1207.2 1124.2 1201.5 1125 1196.2 1125.8 1191.4 1126.6 1187 1127.4 1183.2 1128.2 1180.1 1129 1177.7 1129.8 1176.1 1130.6 1175.3 1131.4 1175.3 1132.2 1176.1 1133 1177.7 1133.8 1180.1 1134.6 1183.2 1135.4 1187 1136.2 1191.4 1137 1196.2 1137.8 1201.5 1138.6 1207.2 1139.4 1213.1 1140.2 1219.2 1141 1225.4 1141.8 1231.6 1142.6 1237.8 1143.4 1243.9 1144.2 1249.9 1145 1255.7 1145.8 1261.3 1146.6 1266.7 1147.4 1271.8 1148.2 1276.7 1149 1281.3 1149.8 1285.6 1150.6 1289.6 1151.4 1293.4 1152.2 1296.9 1153 1300.1 1153.8 1303.2 1154.6 1306 1155.4 1308.5 1156.2 1310.9 1157 1313.1 1157.8 1315.1 1158.6 1316.9 1159.4 1318.6 1160.2 1320.1 1161 1321.5 1161.8 1322.7 1162.6 1323.9 1163.4 1324.9 1164.2 1325.9 1165 1326.8 1165.8 1327.6 1166.6 1328.3 1167.4 1328.9 1168.2 1329.5 1169 1330.1 1169.8 1330.6 1170.6 1331 1171.4 1331.4 1172.2 1330.9 1173 1331.7 1173.8 1332.7 1174.6 1332.6 1175.4 1333.8 1176.2 1332.9 1177.8 1333 1179.4 1333.3 1181 1334.8 1182.6 1334.2 1184.2 1335 1185.8 1334.9 1187.4 1335.2 1189 1334.7 1190.6 1335.4 1192.2 1335.5 1193.8 1334.8 1195.4 1335.8 1197 1334.5 1198.6 1334.5 1200.2 1335.6 1201.8 1335.7 1203.4 1335.4 1205 1335.2 1206.6 1334.3 1208.2 1335.4 1209.8 1335.9 1211.4 1335.8 1213 1334.7 1214.6 1334.8 1216.2 1335.3 1217.8 1335 1219.4 1335.9 1221 1335.1 1222.6 1335.9 1224.2 1335.9 1225.8 1335.3 1227.4 1334.3 1229 1334.6 1230.6 1335.7 1232.2 1335.2 1233.8 1335.3 1235.4 1335.2 1237 1335.7 1238.6 1335.3 1240.2 1334.8 1241.8 1335.2 1243.4 1335.7 1245 1335.1" fill="none" stroke="#6d6e70" stroke-width="2.4"/>
<path d="M1037 1335.4 1038.6 1333.9 1040.2 1334.9 1041.8 1336.4 1043.4 1335.2 1045 1335.6 1046.6 1336.2 1048.2 1336.2 1049.8 1334.9 1051.4 1334.1 1053 1334 1054.6 1334.4 1056.2 1334.7 1057.8 1333.9 1059.4 1334.1 1061 1333.9 1062.6 1335.4 1064.2 1334.5 1065.8 1334.7 1067.4 1336 1069 1334.9 1070.6 1333.9 1072.2 1334.5 1073.8 1335.7 1075.4 1333.5 1077 1334.7 1078.6 1334.6 1080.2 1334.4 1081.8 1335.1 1083.4 1333.3 1085 1332.8 1086.6 1333.4 1087.4 1332.6 1088.2 1333.6 1089 1333.5 1089.8 1333.1 1090.6 1331.3 1091.4 1331.6 1092.2 1331.2 1093 1330.8 1093.8 1330.3 1094.6 1329.8 1095.4 1329.2 1096.2 1328.6 1097 1327.9 1097.8 1327.1 1098.6 1326.2 1099.4 1325.2 1100.2 1324.2 1101 1323 1101.8 1321.7 1102.6 1320.3 1103.4 1318.8 1104.2 1317 1105 1315.2 1105.8 1313.1 1106.6 1310.9 1107.4 1308.4 1108.2 1305.8 1109 1302.9 1109.8 1299.7 1110.6 1296.3 1111.4 1292.6 1112.2 1288.7 1113 1284.5 1113.8 1279.9 1114.6 1275.1 1115.4 1270 1116.2 1264.6 1117 1259 1117.8 1253.1 1118.6 1247 1119.4 1240.7 1120.2 1234.4 1121 1227.9 1121.8 1221.5 1122.6 1215.2 1123.4 1209 1124.2 1203.1 1125 1197.5 1125.8 1192.3 1126.6 1187.7 1127.4 1183.7 1128.2 1180.4 1129 1177.9 1129.8 1176.2 1130.6 1175.3 1131.4 1175.3 1132.2 1176.2 1133 1177.9 1133.8 1180.4 1134.6 1183.7 1135.4 1187.7 1136.2 1192.3 1137 1197.5 1137.8 1203.1 1138.6 1209 1139.4 1215.2 1140.2 1221.5 1141 1227.9 1141.8 1234.4 1142.6 1240.7 1143.4 1247 1144.2 1253.1 1145 1259 1145.8 1264.6 1146.6 1270 1147.4 1275.1 1148.2 1279.9 1149 1284.5 1149.8 1288.7 1150.6 1292.6 1151.4 1296.3 1152.2 1299.7 1153 1302.9 1153.8 1305.8 1154.6 1308.4 1155.4 1310.9 1156.2 1313.1 1157 1315.2 1157.8 1317 1158.6 1318.8 1159.4 1320.3 1160.2 1321.7 1161 1323 1161.8 1324.2 1162.6 1325.2 1163.4 1326.2 1164.2 1327.1 1165 1327.9 1165.8 1328.6 1166.6 1329.2 1167.4 1329.8 1168.2 1330.3 1169 1330.8 1169.8 1331.2 1170.6 1331.6 1171.4 1331.6 1172.2 1331.1 1173 1332 1173.8 1334 1174.6 1334.2 1175.4 1334.5 1176.2 1332.7 1177.8 1333 1179.4 1334.4 1181 1335.2 1182.6 1334.8 1184.2 1333.5 1185.8 1335.8 1187.4 1335.4 1189 1334 1190.6 1334.5 1192.2 1336.2 1193.8 1334.8 1195.4 1335.6 1197 1334.1 1198.6 1336.2 1200.2 1334.2 1201.8 1336.4 1203.4 1334.8 1205 1334.2 1206.6 1336.4 1208.2 1335.2 1209.8 1335 1211.4 1336 1213 1334.5 1214.6 1334.5 1216.2 1334.6 1217.8 1334.2 1219.4 1334.8 1221 1335.4 1222.6 1335 1224.2 1335.2 1225.8 1335.3 1227.4 1335 1229 1333.9 1230.6 1334.3 1232.2 1335.8 1233.8 1334.7 1235.4 1335.3 1237 1334.2 1238.6 1334.5 1240.2 1335.9 1241.8 1335.4 1243.4 1336.3 1245 1335.5" fill="none" stroke="#dc4a30" stroke-width="2.2" stroke-linejoin="round"/>
<line x1="1118.5" y1="1264.2" x2="1144" y2="1264.2" stroke="#6d6e71" stroke-width="1.1"/><path d="M1122 1261.2 L1118.5 1264.2 L1122 1267.2" fill="none" stroke="#6d6e71" stroke-width="1.1"/><path d="M1140.5 1261.2 L1144 1264.2 L1140.5 1267.2" fill="none" stroke="#6d6e71" stroke-width="1.1"/>
<text x="1121" y="1256.5" font-size="18.5" letter-spacing="0.5">22</text>
<path d="M691.5 1156.5 693.1 1156.5 694.8 1156.6 696.4 1156.6 698.1 1156.7 699.7 1156.7 701.4 1156.7 703 1156.8 704.7 1156.8 706.3 1156.9 708 1156.9 709.6 1156.9 711.3 1157 712.9 1157 714.5 1157 716.2 1157.1 717.8 1157.1 719.5 1157.2 721.1 1157.2 722.8 1157.2 724.4 1157.3 726.1 1157.3 727.7 1157.4 729.4 1157.4 731 1157.4 732.7 1157.5 734.3 1157.5 736 1157.6 737.6 1157.6 739.2 1157.8 740.9 1158 742.5 1158.2 744.2 1158.3 745.8 1158.5 747.5 1158.7 749.1 1158.9 750.7 1159.1 752.4 1159.3 754 1159.5 755.7 1159.6 757.3 1159.8 759 1160 760.6 1160.2 762.5 1160.9 764.4 1161.5 766.2 1162.2 768.1 1162.8 770 1163.5 771.8 1164.3 773.6 1165.1 775.4 1165.9 777.2 1166.7 779 1167.5 780.8 1168.3 782.4 1168.7 784 1169.2 785.6 1169.6 787.2 1170 788.9 1170.4 790.5 1170.8 792.1 1171.3 793.7 1171.7 795.3 1171.7 797 1171.7 798.6 1171.7 800.3 1171.7 801.9 1171.7 803.6 1171.7 805.2 1171.7 806.9 1172.3 808.7 1172.9 810.4 1173.4 812.2 1174 813.9 1174.6 815.7 1177.2 817.4 1179.7 819.2 1182.3 820.9 1184.9 822.7 1187.4 824.4 1190 826.2 1192.6 827.9 1195.1 829.7 1198.5 831.4 1198.6 833.1 1199.6 834.8 1201.6 836.4 1202.4 838.1 1203.4 839.8 1204.8 841.4 1204.3 843 1204.3 845 1204.2 847 1203.9 848.9 1207.8 850.8 1210.1 852.7 1213.5 854.5 1213.9 856.2 1215.2 858 1215.6 860.1 1217.9 862.2 1219.4 864.3 1222.5 866.2 1223.3 868.1 1223.7 870.1 1225.4 872 1227.3 873.9 1226.9 875.8 1229.4" fill="none" stroke="#1e9cc4" stroke-width="2.7" stroke-linejoin="round"/>
<path d="M875.8 1229.4 877.7 1229.8 879.6 1231.1 881.5 1232.8 883.2 1233.4 884.9 1234.9 886.6 1236.6 888.3 1238.5 890 1238.7 891.8 1241.1 893.5 1242.4 895.3 1243.8 897 1244.9 898.8 1246.3 900.4 1247.2 902.1 1248.8 903.7 1250.2 905.4 1252.8 907 1253.4 908.7 1254.7 910.3 1255.5 912.2 1260.4 914.1 1263.2 916.1 1265.3 918 1266.8 919.6 1268.8 921.2 1270.9 922.8 1273.5 924.4 1274.6 926 1277.5 927.6 1279 929.3 1283.1 931.1 1285.2 932.8 1285.9 934.5 1287 936.2 1291.2 938 1291.2 939.7 1293.4 941.4 1294.4 943.2 1297.5 944.9 1299.8 946.6 1302.2 948.3 1303.6 950.1 1306.8 951.8 1307.6 953.5 1310.7 955.2 1312.5 956.9 1315.7 958.7 1316.9 960.4 1319.2 962.1 1322.3 963.8 1324 965.5 1327 967.1 1328.7 968.8 1331.3 970.5 1333 972.2 1335 973.9 1337.5 975.6 1337.9 977.2 1339.6 978.9 1343.5 980.6 1342.9 982.3 1346.6 984 1347.9 985.6 1347.6 987.3 1351.6 989 1353.3 990.7 1354.1 992.3 1356 994 1357.7 995.7 1357.3 997.4 1360 999 1361.5 1000.7 1364 1002.4 1365.5 1004 1366.6 1005.7 1366.9 1007.4 1368.9 1009 1369.3 1010.6 1370.3 1012.3 1370 1014 1370.4 1015.6 1371.7 1017.2 1373.4 1018.9 1373.7 1020.5 1376.9 1022.2 1377.1 1023.9 1378.4 1025.5 1379.4 1027.1 1380.2 1028.8 1380.2 1030.4 1379.4 1032.1 1382.4 1033.7 1382.9 1035.4 1382.7 1037 1383.5 1038.6 1384.4 1040.3 1383.3 1041.9 1385.9 1043.6 1385.1 1045.2 1385.2 1046.9 1386.4 1048.5 1388.4 1050.2 1387 1051.9 1388.9 1053.5 1389.8 1055.2 1388.6 1056.9 1388.5 1058.6 1389 1060.3 1389.9 1062 1390.4 1063.7 1390.2 1065.3 1390.5 1067 1389 1068.7 1389.4 1070.5 1390 1072.2 1391.7 1074 1390.6 1075.7 1391.6 1077.5 1390.2 1079.2 1390.6 1081 1391.4 1082.7 1392.9 1084.5 1392.6" fill="none" stroke="#1e9cc4" stroke-width="3.5" stroke-linejoin="round"/>
<line x1="1086" y1="1392.8" x2="1456.2" y2="1392.8" stroke="#1e9cc4" stroke-width="1.6" stroke-dasharray="5 3.2"/>
<text x="1323" y="1384" font-size="20.5" fill="#1e9cc4" letter-spacing="0.3">Control</text>
<path d="M691.5 1156.5 983.7 1156.5 1026.9 1164 1051.6 1150 1068 1154.2 1083.2 1164.2 1095.2 1148.5 1104.3 1152.1 1111.8 1162.7 1119.3 1152.1 1125.3 1152.7 1132 1164.2 1138 1148.5 1142.8 1158.1 1147 1150 1151.8 1147.6 1155.4 1165.7 1160 1150.6 1162.1 1150.9 1164.1 1162.2 1166.1 1152.9 1168 1161.6 1169.8 1152.2 1171.6 1161.5 1173.4 1153.9 1175.1 1163.7 1176.7 1153.6 1178.3 1164.2 1179.9 1150.2 1181.4 1159.8 1182.9 1152.5 1184.4 1163.8 1185.8 1150.1 1187.2 1162.1 1188.5 1153.5 1189.9 1161.1 1191.2 1150.3 1192.5 1161.2 1193.7 1152.2 1194.9 1160.9 1196.1 1152.5 1197.3 1165 1198.5 1154.5 1199.6 1164.4 1200.7 1152.7 1204.1 1165 1207.2 1151.9 1210.2 1162 1213.1 1151 1215.9 1163.5 1218.5 1155.5 1221 1161.2 1223.4 1153.3 1225.8 1163.7 1228 1154.4 1230.2 1162.3 1232.3 1154.3 1234.3 1163.3 1236.3 1151.8 1238.2 1161.8 1240 1152.3 1241.8 1166.4 1243.6 1155.7 1245.3 1167 1246.9 1152.6 1248.5 1167 1250.1 1155 1251.6 1164.3 1253.1 1154.5 1254.6 1167.8 1256 1153.5 1257.4 1164.5 1258.7 1154.4 1260.1 1164.1 1261.4 1156.6 1262.6 1163.3 1263.9 1152.3 1265.1 1164.4 1266.3 1151.8 1267.5 1164.3 1268.6 1155.6 1269.8 1165.8 1270.9 1156 1272 1165.2 1273.1 1151.9 1274.1 1168.1 1275.1 1152.7 1276.2 1166.8 1277.2 1152.2 1278.2 1168.6 1279.1 1154.2 1280.1 1167.4 1281 1157.1 1282 1167.6 1282.9 1154.9 1283.8 1167.8 1284.7 1153.8 1285.6 1165.2 1286.4 1157.2 1287.3 1168.9 1288.1 1156.8 1288.9 1166.4 1289.8 1155.7 1290.6 1165.5 1291.4 1153.4 1292.2 1169.4 1292.9 1156.2 1293.7 1167.6 1294.5 1156 1295.2 1167.1 1295.9 1155.5 1296.7 1165 1297.4 1156.9 1298.1 1165.3 1298.8 1152.6 1299.5 1167 1300.2 1156.6 1300.9 1169.4 1301.6 1152.2 1302.2 1166.8 1302.9 1157.2 1303.6 1165.4 1304.2 1157.5 1304.8 1166.3 1305.5 1157.5 1306.1 1165.7 1306.7 1156.6 1307.3 1167.7 1307.9 1152.9 1308.5 1168.8 1309.1 1155.7 1309.7 1166.9 1310.3 1155.1 1310.9 1166.7 1311.5 1156.2 1312 1164.9 1312.6 1156.6 1313.2 1170.3 1313.7 1157.5 1314.3 1167.6 1314.8 1154.6 1315.4 1169.8 1315.9 1157.1 1316.4 1166.3 1317 1156.9 1317.5 1167.1 1318 1155.7 1318.5 1170.5 1319 1153.4 1319.5 1170 1320 1158.3 1320.5 1165.1 1321 1154.2 1321.5 1170.3 1322 1155.7 1322.5 1168.5 1322.9 1158.5 1323.4 1167.3 1323.9 1153 1324.3 1170 1324.8 1153.4 1325.3 1170.9 1325.7 1157.1 1326.2 1165.7 1326.6 1157.7 1327.1 1168.3 1327.5 1154.5 1328 1170.8 1328.4 1154.3 1328.8 1169.1 1329.3 1154.1 1329.7 1168 1330.1 1155.4 1330.5 1165.5 1331 1154 1331.4 1166.7 1331.8 1153.2 1332.2 1169.2 1332.6 1156.9 1333 1166.1 1333.4 1157.3 1333.8 1169.2 1334.2 1154.6 1334.6 1166.1 1335 1158.4 1335.4 1168.6 1335.8 1155.3 1336.2 1167.8 1336.5 1157.5 1336.9 1169.2 1337.3 1158.9 1337.7 1167.4 1338 1156.1 1338.4 1171.4 1338.8 1155 1339.2 1171 1339.5 1156.1 1339.9 1167 1340.2 1157.5 1340.6 1171.5 1341 1154.7 1341.3 1167.5 1341.7 1158.9 1342 1168.7 1342.4 1154.9 1342.7 1168.3 1343.1 1157.5 1343.4 1169.8 1343.7 1153.4 1344.1 1167.2 1344.4 1158.9 1344.7 1167.9 1345.1 1156.5 1345.4 1170 1345.7 1157.9 1346.1 1170.8 1346.4 1154.6 1346.7 1169 1347 1157.9 1347.4 1171.9 1347.7 1157.3 1348 1171 1348.3 1157.8 1348.6 1167.3 1348.9 1154.5 1349.3 1167.8 1349.6 1153.3 1349.9 1169.1 1350.2 1158.1 1350.5 1167.4 1350.8 1156.7 1351.1 1170.2 1351.4 1153.4 1351.7 1166.9 1352 1156.9 1352.3 1167.4 1352.6 1153.3 1352.9 1167 1353.2 1159 1353.5 1166.5 1353.7 1156.9 1354 1171.7 1354.3 1153.9 1354.6 1170.7 1354.9 1153.1 1355.2 1172 1355.5 1157.4 1355.7 1167.3 1356 1153.6 1356.3 1170.9 1356.6 1159.2 1356.8 1170.4 1357.1 1157.1 1357.4 1168.6 1357.7 1157.4 1357.9 1167.3 1358.2 1159.5 1358.5 1168 1358.7 1157.3 1359 1172.3 1359.3 1158.7 1359.5 1172.4 1359.8 1158.2 1360.1 1168.6 1360.3 1154.4 1360.6 1171.6 1360.8 1156.8 1361.1 1166.7 1361.3 1156.6 1361.6 1168.8 1361.9 1153.8 1362.1 1167.6 1362.4 1157.3 1362.6 1172.1 1362.9 1159.4 1363.1 1169.1 1363.4 1154.5 1363.6 1171.3 1363.8 1159.4 1364.1 1166.7 1364.3 1159.3 1364.6 1172.4 1364.8 1158 1365.1 1171.3 1365.3 1154 1365.5 1168.7 1365.8 1158 1366 1172.7 1366.3 1155.8 1366.5 1168.2 1366.7 1155.2 1367 1168.6 1367.2 1158 1367.4 1166.6 1367.7 1154.9 1367.9 1172.5 1368.1 1155.7 1368.3 1172.7 1368.6 1159.6 1368.8 1168.2 1369 1156.8 1369.2 1172.8 1369.5 1153.7 1369.7 1169.2 1369.9 1158.2 1370.1 1169.5 1370.4 1156.7 1370.6 1172.7 1370.8 1158.7 1371 1171.9 1371.2 1155.1 1371.5 1172 1371.7 1154.9 1371.9 1170.7 1372.1 1157.8 1372.3 1168.8 1372.5 1157.6 1372.7 1171.8 1373 1159.4 1373.2 1168.1 1373.4 1155.1 1373.6 1168.4 1373.8 1159.5 1374 1167.1 1374.2 1156.4 1374.4 1169 1374.6 1153.6 1374.8 1172.6 1375 1153.6 1375.2 1168.6 1375.4 1159.4 1375.6 1167.5 1375.8 1156.8 1376 1171.5 1376.2 1157.1 1376.4 1168.5 1376.6 1157.3 1376.8 1171 1377 1155.7 1377.2 1171.8 1377.4 1154.5 1377.6 1171.3 1377.8 1159.2 1378 1172.4 1378.2 1158.1 1378.4 1170.7 1378.6 1157.6 1378.8 1171.8 1379 1158.8 1379.2 1168.7 1379.4 1158.5 1379.6 1168.1 1379.8 1154.3 1379.9 1170.8 1380.1 1158 1380.3 1169.7 1380.5 1153.7 1380.7 1170.4 1380.9 1158.6 1381.1 1172.4 1381.3 1155.9 1381.4 1173.6 1381.6 1159.5 1381.8 1170.2 1382 1154.8 1382.2 1172.6 1382.4 1154.2 1382.5 1167.4 1382.7 1158.3 1382.9 1168 1383.1 1158.9 1383.3 1173.5 1383.4 1156.4 1383.6 1173.3 1383.8 1157.8 1384 1172.9 1384.1 1157.3 1384.3 1168.9 1384.5 1155.1 1384.7 1173.4 1384.9 1159.5 1385 1171.2 1385.2 1156.2 1385.4 1168.7 1385.5 1157.8 1385.7 1168.2 1385.9 1158.9 1386.1 1169 1386.2 1156.3 1386.4 1171.6 1386.6 1158.9 1386.7 1167.4 1386.9 1158.1 1387.1 1171.8 1387.2 1159.1 1387.4 1169.4 1387.6 1159 1387.8 1172.6 1387.9 1156.7 1388.1 1167.8 1388.2 1159.7 1388.4 1170 1388.6 1156.7 1388.7 1171.6 1388.9 1159.7 1389.1 1168.5 1389.2 1155.8 1389.4 1170.1 1389.6 1158.5 1389.7 1169.5 1389.9 1154.1 1390 1169.5 1390.2 1156.6 1390.4 1169.8 1390.5 1157.6 1390.7 1173.2 1390.8 1153.8 1391 1169.9 1391.2 1159.1 1391.3 1172.3 1391.5 1159.1 1391.6 1167.5 1391.8 1154.5 1391.9 1170.3 1392.1 1155 1392.2 1170.2 1392.4 1154.6 1392.6 1170.6 1392.7 1159.4 1392.9 1167.7 1393 1156.8 1393.2 1171.8 1393.3 1154.4 1393.5 1168.2 1393.6 1156.4 1393.8 1170 1393.9 1157.1 1394.1 1168.6 1394.2 1158.6 1394.4 1171.1 1394.5 1154.4 1394.7 1168.3 1394.8 1157.3 1395 1173 1395.1 1154.1 1395.3 1169 1395.4 1159.7 1395.6 1173.9 1395.7 1154.1 1395.9 1170.9 1396 1160.2 1396.1 1173.8 1396.3 1158 1396.4 1173.7 1396.6 1156.4 1396.7 1173.2 1396.9 1159.5 1397 1172.9 1397.2 1159.1 1397.3 1170.4 1397.4 1154.9 1397.6 1173.2 1397.7 1159.4 1397.9 1169.2 1398 1157.9 1398.2 1171.2 1398.3 1158 1398.4 1168.6 1398.6 1159 1398.7 1172.6 1398.9 1154.6 1399 1168.1 1399.1 1156.9 1399.3 1172.8 1399.4 1160.4 1399.5 1173.4 1399.7 1159.8 1399.8 1171.8 1400 1157 1400.1 1172 1400.2 1158.6 1400.4 1170.6 1400.5 1156.8 1400.6 1170.7 1400.8 1156.3 1400.9 1170.8 1401 1157.7 1401.2 1168 1401.3 1156.5 1401.4 1171.1 1401.6 1159.1 1401.7 1173 1401.8 1155.5 1402 1171 1402.1 1159.5 1402.2 1171.1 1402.4 1160 1402.5 1168.8 1402.6 1157.8 1402.8 1168.5 1402.9 1157.8 1403 1171.3 1403.2 1160.5 1403.3 1172.2 1403.4 1160.2 1403.5 1172.9 1403.7 1155.5 1403.8 1171.4 1403.9 1160.4 1404.1 1171.3 1404.2 1158.2 1404.3 1174.4 1404.4 1159.8 1404.6 1173.7 1404.7 1154.1 1404.8 1172.9 1404.9 1155.3 1405.1 1169.3 1405.2 1154.2 1405.3 1171.3 1405.4 1154.4 1405.6 1174.2 1405.7 1159.7 1405.8 1173.3 1405.9 1154.6 1406.1 1168.5 1406.2 1158.5 1406.3 1173.1 1406.4 1159.7 1406.6 1174.1 1406.7 1159 1406.8 1173.6 1406.9 1159.9 1407.1 1171.5 1407.2 1154.6 1407.3 1169.5 1407.4 1159.1 1407.5 1171.5 1407.7 1158.7 1407.8 1168.4 1407.9 1159.6 1408 1169.2 1408.1 1154.6 1408.3 1172.7 1408.4 1154.8 1408.5 1169.3 1408.6 1155.6 1408.7 1168.9 1408.9 1157.3 1409 1172.4 1409.1 1158.5 1409.2 1174 1409.3 1157.1 1409.4 1172.1 1409.6 1154.9 1409.7 1168.9 1409.8 1154.2 1409.9 1172.4 1410 1158.3 1410.1 1173.6 1410.3 1159.1 1410.4 1174.9 1410.5 1157 1410.6 1170.6 1410.7 1155.8 1410.8 1171.2 1410.9 1159.7 1411.1 1173.3 1411.2 1160.6 1411.3 1173.8 1411.4 1159.2 1411.5 1172.6 1411.6 1154.3 1411.7 1172.2 1411.9 1156.5 1412 1170.4 1412.1 1161 1412.2 1168.5 1412.3 1160 1412.4 1172.5 1412.5 1158.1 1412.6 1171.8 1412.8 1154.9 1412.9 1169.2 1413 1159.5 1413.1 1172.7 1413.2 1160.9 1413.3 1168.3 1413.4 1158.6 1413.5 1169 1413.6 1158.6 1413.7 1169.8 1413.9 1157.1 1414 1172.3 1414.1 1159.6 1414.2 1172.6 1414.3 1157.8 1414.4 1169.3 1414.5 1154.7 1414.6 1170 1414.7 1160 1414.8 1169 1414.9 1156.7 1415 1174.3 1415.2 1155.7 1415.3 1171.1 1415.4 1159.3 1415.5 1168.5 1415.6 1156.7 1415.7 1172.2 1415.8 1158.7 1415.9 1172.8 1416 1158.1 1416.1 1174.8 1416.2 1156.1 1416.3 1170.1 1416.4 1154.9 1416.5 1168.7 1416.6 1157.5 1416.7 1171.2 1416.8 1159.5 1416.9 1168.8 1417 1155.8 1417.2 1168.5 1417.3 1157.4 1417.4 1174.9 1417.5 1160.1 1417.6 1169.8 1417.7 1157 1417.8 1171.9 1417.9 1156.8 1418 1174 1418.1 1159.9 1418.2 1170.6 1418.3 1159.1 1418.4 1168.8 1418.5 1155.1 1418.6 1173.9 1418.7 1156.3 1418.8 1168.6 1418.9 1155.4 1419 1173.6 1419.1 1158 1419.2 1173.6 1419.3 1158.1 1419.4 1170.1 1419.5 1160.5 1419.6 1170.1 1419.7 1160.9 1419.8 1170.8 1419.9 1156.1 1420 1173.3 1420.1 1155.4 1420.2 1173.4 1420.3 1159.4 1420.4 1172.4 1420.5 1158.2 1420.6 1174 1420.7 1157.6 1420.8 1170.4 1420.9 1156.8 1421 1175.2 1421.1 1159.7 1421.2 1174.6 1421.3 1161.1 1421.4 1170.4 1421.4 1159.6 1421.5 1173.7 1421.6 1154.8 1421.7 1173.7 1421.8 1159 1421.9 1174.7 1422 1159 1422.1 1170.3 1422.2 1155 1422.3 1173 1422.4 1156.5 1422.5 1173.2 1422.6 1154.5 1422.7 1171.9 1422.8 1155.5 1422.9 1173.5 1423 1155.4 1423.1 1171.7 1423.2 1156.3 1423.3 1172.6 1423.4 1159.2 1423.4 1170.1 1423.5 1157 1423.6 1169.2 1423.7 1155 1423.8 1169.7 1423.9 1161.1 1424 1169.4 1424.1 1154.9 1424.2 1171.1 1424.3 1160.3 1424.4 1168.9 1424.5 1161 1424.6 1173.5 1424.6 1157 1424.7 1173.5 1424.8 1156.2 1424.9 1169.2 1425 1157.3 1425.1 1171.2 1425.2 1155.7 1425.3 1174.4 1425.4 1155.2 1425.5 1169.2 1425.6 1155.4 1425.6 1175.1 1425.7 1154.8 1425.8 1169.5 1425.9 1159.9 1426 1169.6 1426.1 1161.1 1426.2 1174.6 1426.3 1155.8 1426.4 1173.2 1426.5 1155.7 1426.5 1173.2 1426.6 1159.4 1426.7 1169.5 1426.8 1160.7 1426.9 1174 1427 1160 1427.1 1171 1427.2 1158.5 1427.3 1169 1427.3 1159.6 1427.4 1170.8 1427.5 1156.5 1427.6 1171.4 1427.7 1159.2 1427.8 1175.5 1427.9 1157.9 1428 1174.7 1428 1157.1 1428.1 1169.1 1428.2 1158.6 1428.3 1171.9 1428.4 1156.1 1428.5 1171.3 1428.6 1156.5 1428.6 1172.6 1428.7 1159.9 1428.8 1174.8 1428.9 1160.8 1429 1174.6 1429.1 1160.3 1429.2 1168.9 1429.2 1160 1429.3 1174.2 1429.4 1154.7 1429.5 1168.9 1429.6 1158.1 1429.7 1172.3 1429.7 1155.9 1429.8 1170.2 1429.9 1158 1430 1171.3 1430.1 1155.7 1430.2 1170.7 1430.3 1154.9 1430.3 1170.9 1430.4 1160 1430.5 1173.8 1430.6 1158 1430.7 1169.7 1430.8 1157.1 1430.8 1169.5 1430.9 1156 1431 1173.8 1431.1 1156 1431.2 1173.3 1431.3 1159 1431.3 1171.8 1431.4 1158.8 1431.5 1175.2 1431.6 1160.9 1431.7 1175.2 1431.7 1161.3 1431.8 1170.4 1431.9 1159.7 1432 1175.3 1432.1 1158 1432.2 1171.6 1432.2 1155.4 1432.3 1170.6 1432.4 1158.3 1432.5 1172.7 1432.6 1156.3 1432.6 1174.3 1432.7 1157 1432.8 1171.5 1432.9 1159.3 1433 1170.1 1433 1155.7 1433.1 1173.6 1433.2 1156.4 1433.3 1170.2 1433.4 1158.5 1433.4 1174.4 1433.5 1157.5 1433.6 1169.9 1433.7 1158.3 1433.8 1175.2 1433.8 1159.9 1433.9 1170.4 1434 1159.5 1434.1 1174 1434.1 1155.7 1434.2 1170.2 1434.3 1160.5 1434.4 1170.8 1434.5 1159.3 1434.5 1172.7 1434.6 1160.5 1434.7 1171.4 1434.8 1160.3 1434.9 1175.9 1434.9 1156.5 1435 1169.8 1435.1 1154.9 1435.2 1169.8 1435.2 1158.9 1435.3 1176 1435.4 1156.1 1435.5 1174.2 1435.5 1158.6 1435.6 1170.5 1435.7 1157.2 1435.8 1169.9 1435.9 1160.2 1435.9 1171.9 1436 1161.4 1436.1 1171.9 1436.2 1156.1 1436.2 1174 1436.3 1158.1 1436.4 1173.6 1436.5 1158.4 1436.5 1170.2 1436.6 1157.4 1436.7 1172 1436.8 1156.5 1436.8 1175.5 1436.9 1158.6 1437 1173.2 1437.1 1156.4 1437.1 1172.1 1437.2 1160.1 1437.3 1174.2 1437.4 1155.5 1437.4 1174.6 1437.5 1156.8 1437.6 1175.2 1437.7 1156.9 1437.7 1173.7 1437.8 1158.5 1437.9 1171.4 1438 1157.3 1438 1169.9 1438.1 1158.7 1438.2 1174.7 1438.3 1156.7 1438.3 1173.6 1438.4 1159.9 1438.5 1172.2 1438.5 1158.5 1438.6 1173.6 1438.7 1158.8 1438.8 1174 1438.8 1155.2 1438.9 1170.5 1439 1157.1 1439.1 1174.7 1439.1 1159 1439.2 1172.7 1439.3 1154.9 1439.3 1169.5 1439.4 1157.9 1439.5 1170.4 1439.6 1156.2 1439.6 1175.9 1439.7 1158.1 1439.8 1170 1439.9 1157.7 1439.9 1173.1 1440 1156.7 1440.1 1172.9 1440.1 1157.3 1440.2 1175.1 1440.3 1158.1 1440.4 1172.2 1440.4 1155.1 1440.5 1170.8 1440.6 1156.9 1440.6 1172.1 1440.7 1156.4 1440.8 1170.2 1440.8 1154.8 1440.9 1171.8 1441 1161.4 1441.1 1171.3 1441.1 1159 1441.2 1169.4 1441.3 1158.8 1441.3 1172.3 1441.4 1156.9 1441.5 1171.8 1441.5 1159.9 1441.6 1170.9 1441.7 1156.6 1441.8 1176 1441.8 1158.1 1441.9 1170.9 1442 1156.2 1442 1172.1 1442.1 1160.3 1442.2 1170.3 1442.2 1156.3 1442.3 1175.1 1442.4 1157.3 1442.4 1172.7 1442.5 1157.9 1442.6 1171 1442.7 1155 1442.7 1171.9 1442.8 1157.3 1442.9 1175.2 1442.9 1156.1 1443 1172.7 1443.1 1159.7 1443.1 1173.3 1443.2 1160.9 1443.3 1175.3 1443.3 1159.3 1443.4 1175.4 1443.5 1159.9 1443.5 1172.1 1443.6 1160 1443.7 1172.4 1443.7 1160.5 1443.8 1169.5 1443.9 1156.8 1443.9 1171.4 1444 1160.1 1444.1 1171.6 1444.1 1158.5 1444.2 1172.5 1444.3 1157.4 1444.3 1174.1 1444.4 1159.3 1444.5 1176 1444.5 1155.8 1444.6 1169.9 1444.7 1156 1444.7 1175.9 1444.8 1156.3 1444.9 1170.5 1444.9 1156 1445 1174 1445.1 1161.8 1445.1 1169.6 1445.2 1155.2 1445.3 1174.1 1445.3 1160.1 1445.4 1170.2 1445.5 1160.9 1445.5 1171.2 1445.6 1156.4 1445.7 1172 1445.7 1160.8 1445.8 1175.9 1445.9 1156.3 1445.9 1170.7 1446 1155.6 1446.1 1173.8 1446.1 1156.4 1446.2 1174.3 1446.2 1155.6 1446.3 1175.1 1446.4 1156 1446.4 1170.9 1446.5 1157 1446.6 1173.3 1446.6 1156.7 1446.7 1172.6 1446.8 1155.7 1446.8 1173.5 1446.9 1160.1 1447 1171.2 1447 1160.9 1447.1 1173 1447.1 1161.5 1447.2 1172.9 1447.3 1160.9 1447.3 1173 1447.4 1158.4 1447.5 1173.4 1447.5 1155.8 1447.6 1169.6 1447.7 1156 1447.7 1172.9 1447.8 1158 1447.8 1174.3 1447.9 1156 1448 1172.2 1448 1159 1448.1 1176.4 1448.2 1161.4 1448.2 1174.1 1448.3 1157.5 1448.3 1169.8 1448.4 1157.6 1448.5 1174.4 1448.5 1155.4 1448.6 1172 1448.7 1155 1448.7 1173.2 1448.8 1158.5 1448.8 1176 1448.9 1161.7 1449 1174.7 1449 1157.5 1449.1 1172 1449.2 1155.9 1449.2 1172.2 1449.3 1158.6 1449.3 1173.4 1449.4 1156.5 1449.5 1171.1 1449.5 1158.9 1449.6 1172.6 1449.6 1158.1 1449.7 1175.5 1449.8 1159.9 1449.8 1175.5 1449.9 1159.1 1449.9 1173.2 1450 1160.1 1450.1 1173.3 1450.1 1155.1 1450.2 1174.3 1450.3 1156.4 1450.3 1172 1450.4 1159.8 1450.4 1171.8 1450.5 1157.9 1450.6 1174.2 1450.6 1156.5 1450.7 1170 1450.7 1156.9 1450.8 1176 1450.9 1158.2 1450.9 1170.1 1451 1159.9 1451 1169.7 1451.1 1160.7 1451.2 1176.3 1451.2 1157.7 1451.3 1174.4 1451.3 1156.4 1451.4 1176.2 1451.5 1157.7 1451.5 1174.1 1451.6 1157.6 1451.6 1174.7 1451.7 1157.8 1451.8 1174.6 1451.8 1160.5 1451.9 1174.5 1451.9 1158.8 1452 1175.2 1452 1161.3 1452.1 1171 1452.2 1161.8 1452.2 1175.3 1452.3 1155.6 1452.3 1174.4 1452.4 1159.4 1452.5 1175.6 1452.5 1156.5 1452.6 1173.8 1452.6 1160.2 1452.7 1171.9 1452.7 1159.1 1452.8 1172 1452.9 1159 1452.9 1174.4 1453 1155.4 1453 1170.2 1453.1 1158 1453.2 1170.1 1453.2 1161.3 1453.3 1175.6 1453.3 1158 1453.4 1176.3 1453.4 1158.9 1453.5 1169.9 1453.6 1159.3 1453.6 1174 1453.7 1155.4 1453.7 1176.8 1453.8 1158.7 1453.8 1172.8 1453.9 1161.4 1454 1174.4 1454 1160.6 1454.1 1170.9 1454.1 1162 1454.2 1169.9 1454.2 1157.2 1454.3 1170.7 1454.4 1155.2 1454.4 1170.5 1454.5 1155.9 1454.5 1170.8 1454.6 1162 1454.6 1175 1454.7 1160.4 1454.8 1175.1 1454.8 1160.8 1454.9 1170.2 1454.9 1156.6 1455 1175 1455 1156 1455.1 1175.1 1455.1 1161.6" fill="none" stroke="#e0462b" stroke-width="2.7" stroke-linejoin="round"/>
<text x="1173.5" y="1205.7" font-size="20.5" fill="#e0462b" letter-spacing="0.2">Edge-stabilized perovskite</text>
</g>
</g>
</svg>
</body></html>
